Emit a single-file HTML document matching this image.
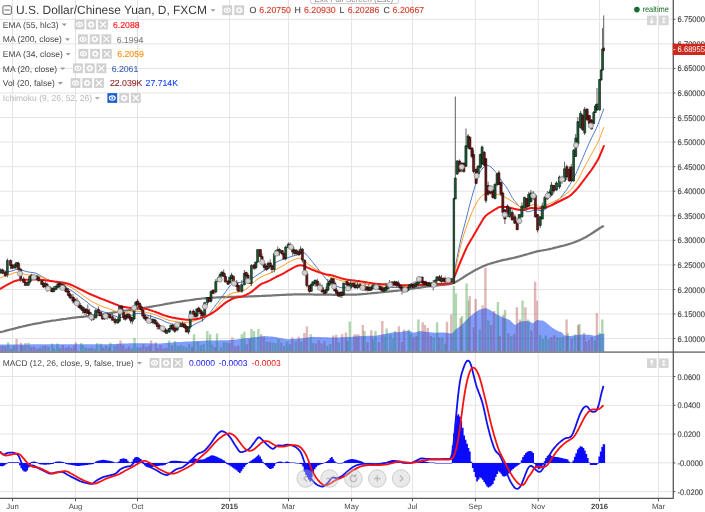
<!DOCTYPE html>
<html lang="en"><head><meta charset="utf-8"><title>U.S. Dollar/Chinese Yuan, D, FXCM</title>
<style>html,body{margin:0;padding:0;background:#fff;overflow:hidden}svg{display:block}</style></head>
<body>
<svg width="705" height="512" viewBox="0 0 705 512" font-family="'Liberation Sans', Arial, sans-serif" text-rendering="geometricPrecision">
<rect width="705" height="512" fill="#fff"/>
<path d="M0 19.3 H673 M0 43.9 H673 M0 68.4 H673 M0 93 H673 M0 117.5 H673 M0 142.1 H673 M0 166.7 H673 M0 191.2 H673 M0 215.8 H673 M0 240.3 H673 M0 264.9 H673 M0 289.5 H673 M0 314 H673 M0 338.6 H673 M0 376.5 H673 M0 405.3 H673 M0 434.1 H673 M0 462.9 H673 M0 491.6 H673 M12.5 0 V498.3 M75.5 0 V498.3 M137.5 0 V498.3 M229.6 0 V498.3 M288.5 0 V498.3 M351.6 0 V498.3 M412.5 0 V498.3 M475.4 0 V498.3 M538.2 0 V498.3 M599.5 0 V498.3 M658.5 0 V498.3" stroke="#e4e4e4" stroke-width="1" fill="none"/>
<path d="M7 352.1V342.3h2.4V352.1zM12.7 352.1V345.2h2.4V352.1zM21.3 352.1V345.4h2.4V352.1zM27.4 352.1V342.8h2.4V352.1zM41.5 352.1V345.9h2.4V352.1zM47.2 352.1V346.4h2.4V352.1zM51.1 352.1V343.5h2.4V352.1zM53 352.1V348.8h2.4V352.1zM56.2 352.1V343.5h2.4V352.1zM58.7 352.1V348h2.4V352.1zM80 352.1V343h2.4V352.1zM81.7 352.1V345.3h2.4V352.1zM84.6 352.1V347.4h2.4V352.1zM87.5 352.1V348.2h2.4V352.1zM93.2 352.1V348.8h2.4V352.1zM95.8 352.1V343h2.4V352.1zM99.6 352.1V343.5h2.4V352.1zM104.7 352.1V345.6h2.4V352.1zM109.1 352.1V342.8h2.4V352.1zM113.3 352.1V345.8h2.4V352.1zM130.6 352.1V348.4h2.4V352.1zM133.3 352.1V337.9h2.4V352.1zM136.3 352.1V347.6h2.4V352.1zM167.8 352.1V340.5h2.4V352.1zM173.7 352.1V341h2.4V352.1zM176.6 352.1V346.2h2.4V352.1zM179.5 352.1V345h2.4V352.1zM182.3 352.1V346.1h2.4V352.1zM185.2 352.1V347.3h2.4V352.1zM188.1 352.1V343.9h2.4V352.1zM192.8 352.1V334.3h2.4V352.1zM196.7 352.1V342h2.4V352.1zM199.6 352.1V345.1h2.4V352.1zM202.5 352.1V343.9h2.4V352.1zM206.1 352.1V330.9h2.4V352.1zM208.9 352.1V334.3h2.4V352.1zM211.1 352.1V344.6h2.4V352.1zM215.8 352.1V333.5h2.4V352.1zM219.7 352.1V347h2.4V352.1zM222.6 352.1V342.2h2.4V352.1zM225.5 352.1V342.8h2.4V352.1zM240.6 352.1V334.3h2.4V352.1zM243.1 352.1V331.7h2.4V352.1zM250.3 352.1V329.1h2.4V352.1zM252.8 352.1V330.9h2.4V352.1zM257.2 352.1V329.1h2.4V352.1zM265.7 352.1V341.6h2.4V352.1zM271.5 352.1V342.5h2.4V352.1zM274.3 352.1V342.9h2.4V352.1zM277.2 352.1V339.1h2.4V352.1zM283 352.1V345.9h2.4V352.1zM285.8 352.1V341.7h2.4V352.1zM288.7 352.1V344.3h2.4V352.1zM294.5 352.1V341.4h2.4V352.1zM300.2 352.1V341.8h2.4V352.1zM309.5 352.1V334.3h2.4V352.1zM311.7 352.1V342.9h2.4V352.1zM326.1 352.1V345.8h2.4V352.1zM329 352.1V344.1h2.4V352.1zM337.6 352.1V342.5h2.4V352.1zM346.2 352.1V340.9h2.4V352.1zM348.6 352.1V321.5h2.4V352.1zM363.3 352.1V331.1h2.4V352.1zM372.1 352.1V339.3h2.4V352.1zM374.3 352.1V331.1h2.4V352.1zM383.6 352.1V336.6h2.4V352.1zM385.4 352.1V328.5h2.4V352.1zM389.3 352.1V334.6h2.4V352.1zM392.2 352.1V338.7h2.4V352.1zM393.9 352.1V331.1h2.4V352.1zM407.5 352.1V329.7h2.4V352.1zM409.5 352.1V333.8h2.4V352.1zM417.2 352.1V319.5h2.4V352.1zM432.5 352.1V337.4h2.4V352.1zM435.9 352.1V322.2h2.4V352.1zM441.1 352.1V337.6h2.4V352.1zM444 352.1V343.7h2.4V352.1zM452.6 352.1V286h2.4V352.1zM454.7 352.1V293.6h2.4V352.1zM460.8 352.1V316.1h2.4V352.1zM465.4 352.1V283.4h2.4V352.1zM466.8 352.1V300.4h2.4V352.1zM478.5 352.1V329.6h2.4V352.1zM487.1 352.1V320.6h2.4V352.1zM496.7 352.1V302.1h2.4V352.1zM503.8 352.1V309.8h2.4V352.1zM510.1 352.1V336.3h2.4V352.1zM521.4 352.1V300.4h2.4V352.1zM527 352.1V319.5h2.4V352.1zM538.8 352.1V335h2.4V352.1zM541.7 352.1V338.9h2.4V352.1zM544.6 352.1V335.5h2.4V352.1zM547.5 352.1V339.1h2.4V352.1zM556.1 352.1V337.3h2.4V352.1zM559 352.1V337.7h2.4V352.1zM561.8 352.1V336.9h2.4V352.1zM566.6 352.1V333.6h2.4V352.1zM573.9 352.1V334.5h2.4V352.1zM578.2 352.1V323.9h2.4V352.1zM593.5 352.1V340.3h2.4V352.1zM598.6 352.1V332.8h2.4V352.1zM601.1 352.1V319.5h2.4V352.1z" fill="#008000" fill-opacity="0.2"/>
<path d="M-1.7 352.1V346.5h2.4V352.1zM1.2 352.1V345.8h2.4V352.1zM4.1 352.1V346h2.4V352.1zM9.8 352.1V348.7h2.4V352.1zM15.4 352.1V338.9h2.4V352.1zM19.7 352.1V342.8h2.4V352.1zM24.3 352.1V343h2.4V352.1zM30 352.1V347h2.4V352.1zM32.8 352.1V346.7h2.4V352.1zM35.7 352.1V348.8h2.4V352.1zM38.6 352.1V347.8h2.4V352.1zM44.3 352.1V345.7h2.4V352.1zM61.6 352.1V345h2.4V352.1zM64.5 352.1V347.7h2.4V352.1zM67.3 352.1V346.7h2.4V352.1zM70.2 352.1V348h2.4V352.1zM73.1 352.1V346.1h2.4V352.1zM74.6 352.1V342.5h2.4V352.1zM90.3 352.1V347.6h2.4V352.1zM101.8 352.1V347.5h2.4V352.1zM107.6 352.1V347.5h2.4V352.1zM116.2 352.1V344.6h2.4V352.1zM119.3 352.1V340.5h2.4V352.1zM122 352.1V345.3h2.4V352.1zM124.8 352.1V348.4h2.4V352.1zM127.7 352.1V346.8h2.4V352.1zM139.2 352.1V347.5h2.4V352.1zM142.1 352.1V344.3h2.4V352.1zM145 352.1V346.9h2.4V352.1zM147.8 352.1V346.1h2.4V352.1zM149.9 352.1V340.5h2.4V352.1zM154.5 352.1V342.3h2.4V352.1zM156.5 352.1V348h2.4V352.1zM159.3 352.1V345h2.4V352.1zM162.2 352.1V348.2h2.4V352.1zM165.1 352.1V347.9h2.4V352.1zM170.8 352.1V345.2h2.4V352.1zM191 352.1V346.7h2.4V352.1zM214 352.1V346.9h2.4V352.1zM228.3 352.1V343.3h2.4V352.1zM231.1 352.1V337.6h2.4V352.1zM234.1 352.1V346.2h2.4V352.1zM237 352.1V345.7h2.4V352.1zM245.6 352.1V344.2h2.4V352.1zM248.5 352.1V338.9h2.4V352.1zM260 352.1V334.3h2.4V352.1zM262.8 352.1V337.5h2.4V352.1zM268.6 352.1V341.8h2.4V352.1zM280.1 352.1V342.8h2.4V352.1zM291.1 352.1V337.6h2.4V352.1zM297.5 352.1V336.8h2.4V352.1zM303.1 352.1V333h2.4V352.1zM305.7 352.1V326.6h2.4V352.1zM314.6 352.1V343.6h2.4V352.1zM317.5 352.1V340h2.4V352.1zM320.3 352.1V343.6h2.4V352.1zM323.2 352.1V341h2.4V352.1zM332 352.1V335.5h2.4V352.1zM335 352.1V334.8h2.4V352.1zM340.9 352.1V334.3h2.4V352.1zM344.7 352.1V332.5h2.4V352.1zM353.1 352.1V334.5h2.4V352.1zM355 352.1V334.3h2.4V352.1zM357.3 352.1V334.5h2.4V352.1zM361.6 352.1V325.1h2.4V352.1zM366.3 352.1V342.4h2.4V352.1zM370.1 352.1V330.2h2.4V352.1zM377.8 352.1V342h2.4V352.1zM381.1 352.1V320.9h2.4V352.1zM397.7 352.1V326.3h2.4V352.1zM400.8 352.1V341.9h2.4V352.1zM402.9 352.1V329.4h2.4V352.1zM412.3 352.1V337.2h2.4V352.1zM415.2 352.1V336.3h2.4V352.1zM421.5 352.1V322.2h2.4V352.1zM423.7 352.1V325.1h2.4V352.1zM426.6 352.1V328h2.4V352.1zM429.6 352.1V336.1h2.4V352.1zM438.2 352.1V337.8h2.4V352.1zM445.8 352.1V321.7h2.4V352.1zM450.1 352.1V314.4h2.4V352.1zM459.4 352.1V318.3h2.4V352.1zM468.5 352.1V296.2h2.4V352.1zM472.7 352.1V327.2h2.4V352.1zM474.5 352.1V299.1h2.4V352.1zM481.4 352.1V305.5h2.4V352.1zM484.2 352.1V267.7h2.4V352.1zM490 352.1V325h2.4V352.1zM492.9 352.1V311h2.4V352.1zM498.6 352.1V335.9h2.4V352.1zM502.1 352.1V314.9h2.4V352.1zM507.2 352.1V333.2h2.4V352.1zM513 352.1V334h2.4V352.1zM515.7 352.1V307.2h2.4V352.1zM518.8 352.1V319.5h2.4V352.1zM524.2 352.1V307.2h2.4V352.1zM530.2 352.1V330.6h2.4V352.1zM533.9 352.1V281.7h2.4V352.1zM535.6 352.1V300.8h2.4V352.1zM550.3 352.1V337h2.4V352.1zM553.2 352.1V335.3h2.4V352.1zM565.4 352.1V319.5h2.4V352.1zM570.5 352.1V338.6h2.4V352.1zM577 352.1V325.1h2.4V352.1zM582.9 352.1V333.1h2.4V352.1zM584.8 352.1V341.6h2.4V352.1zM587.7 352.1V339.7h2.4V352.1zM590.6 352.1V337h2.4V352.1zM595.7 352.1V313.2h2.4V352.1z" fill="#9e1e1e" fill-opacity="0.2"/>
<path d="M0 352.1 L0,344.4 L1,344.4 L2,344.4 L3,344.4 L4,344.4 L5,344.4 L6,344.4 L7,344.4 L8,344.4 L9,344.4 L10,344.4 L11,344.4 L12,344.4 L13,344.4 L14,344.4 L15,344.4 L16,344.4 L17,344.4 L18,344.4 L19,344.4 L20,344.4 L21,344.4 L22,344.4 L23,344.4 L24,344.4 L25,344.4 L26,344.4 L27,344.4 L28,344.4 L29,344.4 L30,344.4 L31,344.3 L32,344.3 L33,344.3 L34,344.3 L35,344.3 L36,344.3 L37,344.3 L38,344.3 L39,344.3 L40,344.3 L41,344.3 L42,344.3 L43,344.3 L44,344.3 L45,344.3 L46,344.3 L47,344.3 L48,344.3 L49,344.3 L50,344.3 L51,344.3 L52,344.3 L53,344.3 L54,344.3 L55,344.3 L56,344.3 L57,344.3 L58,344.3 L59,344.3 L60,344.3 L61,344.3 L62,344.3 L63,344.3 L64,344.3 L65,344.3 L66,344.3 L67,344.3 L68,344.3 L69,344.3 L70,344.3 L71,344.3 L72,344.3 L73,344.3 L74,344.3 L75,344.3 L76,344.3 L77,344.3 L78,344.3 L79,344.3 L80,344.3 L81,344.3 L82,344.3 L83,344.3 L84,344.3 L85,344.2 L86,344.2 L87,344.2 L88,344.2 L89,344.2 L90,344.2 L91,344.2 L92,344.2 L93,344.2 L94,344.2 L95,344.2 L96,344.2 L97,344.2 L98,344.2 L99,344.2 L100,344.2 L101,344.2 L102,344.2 L103,344.2 L104,344.2 L105,344.2 L106,344.2 L107,344.2 L108,344.2 L109,344.2 L110,344.2 L111,344.1 L112,344.1 L113,344 L114,344 L115,343.9 L116,343.9 L117,343.8 L118,343.8 L119,343.7 L120,343.7 L121,343.6 L122,343.6 L123,343.5 L124,343.5 L125,343.4 L126,343.4 L127,343.4 L128,343.4 L129,343.3 L130,343.3 L131,343.3 L132,343.3 L133,343.3 L134,343.3 L135,343.3 L136,343.3 L137,343.2 L138,343.2 L139,343.2 L140,343.2 L141,343.2 L142,343.2 L143,343.2 L144,343.3 L145,343.3 L146,343.3 L147,343.3 L148,343.3 L149,343.3 L150,343.4 L151,343.4 L152,343.4 L153,343.4 L154,343.4 L155,343.4 L156,343.4 L157,343.5 L158,343.5 L159,343.5 L160,343.5 L161,343.4 L162,343.3 L163,343.3 L164,343.2 L165,343.1 L166,343 L167,342.9 L168,342.9 L169,342.8 L170,342.7 L171,342.6 L172,342.5 L173,342.5 L174,342.4 L175,342.3 L176,342.2 L177,342.1 L178,342.1 L179,342 L180,341.9 L181,341.9 L182,341.8 L183,341.8 L184,341.7 L185,341.7 L186,341.6 L187,341.6 L188,341.5 L189,341.5 L190,341.4 L191,341.4 L192,341.3 L193,341.3 L194,341.2 L195,341.2 L196,341.1 L197,341.1 L198,341 L199,341 L200,340.9 L201,340.9 L202,340.8 L203,340.8 L204,340.7 L205,340.7 L206,340.6 L207,340.6 L208,340.6 L209,340.6 L210,340.5 L211,340.5 L212,340.5 L213,340.5 L214,340.5 L215,340.4 L216,340.4 L217,340.4 L218,340.4 L219,340.4 L220,340.3 L221,340.3 L222,340.3 L223,340.3 L224,340.3 L225,340.2 L226,340.2 L227,340.2 L228,340.2 L229,340.2 L230,340.1 L231,340.1 L232,340 L233,339.9 L234,339.8 L235,339.6 L236,339.5 L237,339.4 L238,339.3 L239,339.1 L240,339 L241,338.9 L242,338.8 L243,338.6 L244,338.5 L245,338.4 L246,338.3 L247,338.1 L248,338 L249,337.9 L250,337.8 L251,337.6 L252,337.5 L253,337.4 L254,337.3 L255,337.2 L256,337 L257,336.9 L258,336.8 L259,336.7 L260,336.6 L261,336.4 L262,336.3 L263,336.2 L264,336.1 L265,336.1 L266,336.2 L267,336.2 L268,336.3 L269,336.4 L270,336.5 L271,336.5 L272,336.6 L273,336.7 L274,336.8 L275,336.9 L276,337.1 L277,337.3 L278,337.5 L279,337.7 L280,337.9 L281,338.1 L282,338.3 L283,338.5 L284,338.7 L285,338.9 L286,339.1 L287,339.3 L288,339.3 L289,339.3 L290,339.2 L291,339.1 L292,339.1 L293,339 L294,339 L295,338.9 L296,338.8 L297,338.8 L298,338.7 L299,338.7 L300,338.6 L301,338.5 L302,338.3 L303,338.2 L304,338 L305,337.9 L306,337.8 L307,337.6 L308,337.5 L309,337.3 L310,337.2 L311,337.1 L312,336.9 L313,336.8 L314,336.9 L315,336.9 L316,336.9 L317,337 L318,337 L319,337 L320,337.1 L321,337.1 L322,337.2 L323,337.2 L324,337.2 L325,337.3 L326,337.3 L327,337.3 L328,337.4 L329,337.4 L330,337.5 L331,337.5 L332,337.5 L333,337.6 L334,337.5 L335,337.5 L336,337.5 L337,337.4 L338,337.4 L339,337.4 L340,337.3 L341,337.3 L342,337.3 L343,337.2 L344,337.2 L345,337.2 L346,337.1 L347,337.1 L348,337.1 L349,337 L350,337 L351,336.9 L352,336.8 L353,336.7 L354,336.6 L355,336.5 L356,336.4 L357,336.3 L358,336.2 L359,336.2 L360,336.1 L361,336.1 L362,336 L363,336 L364,336 L365,335.9 L366,335.9 L367,335.8 L368,335.8 L369,335.8 L370,335.8 L371,335.8 L372,335.8 L373,335.8 L374,335.8 L375,335.8 L376,335.7 L377,335.5 L378,335.3 L379,335.1 L380,334.9 L381,334.7 L382,334.5 L383,334.3 L384,334.1 L385,333.9 L386,333.7 L387,333.5 L388,333.3 L389,333.1 L390,332.9 L391,332.7 L392,332.5 L393,332.4 L394,332.3 L395,332.3 L396,332.2 L397,332.2 L398,332.1 L399,332 L400,332 L401,331.9 L402,331.8 L403,331.6 L404,331.5 L405,331.3 L406,331.1 L407,331 L408,330.8 L409,330.8 L410,331.2 L411,331.6 L412,332 L413,332.4 L414,332.7 L415,332.4 L416,332.1 L417,331.9 L418,331.6 L419,331.3 L420,331.1 L421,331.2 L422,331.3 L423,331.5 L424,331.6 L425,331.7 L426,331.8 L427,332 L428,332.1 L429,332.2 L430,332.3 L431,332.4 L432,332.5 L433,332.6 L434,332.7 L435,332.8 L436,332.7 L437,332.7 L438,332.7 L439,332.6 L440,332.6 L441,332.5 L442,332.5 L443,332.5 L444,332.5 L445,332.6 L446,332.8 L447,332.9 L448,333 L449,333.2 L450,333.3 L451,333.5 L452,333.6 L453,332.5 L454,331.3 L455,330 L456,329 L457,328.4 L458,327.7 L459,327 L460,326.4 L461,325.6 L462,324.6 L463,323.6 L464,322.6 L465,321.6 L466,320.6 L467,319.6 L468,318.6 L469,317.6 L470,316.6 L471,315.8 L472,314.9 L473,314.1 L474,313.2 L475,312.6 L476,311.9 L477,311.2 L478,310.6 L479,309.9 L480,309.6 L481,309.3 L482,309.1 L483,308.8 L484,308.6 L485,308.3 L486,308.1 L487,308.6 L488,309.1 L489,309.6 L490,310.1 L491,310.6 L492,311.3 L493,311.9 L494,312.6 L495,313.3 L496,313.9 L497,314.5 L498,315 L499,315.5 L500,316 L501,316.5 L502,317 L503,317.5 L504,317.8 L505,318.2 L506,318.6 L507,319 L508,319.3 L509,319.7 L510,320.2 L511,321.2 L512,322.2 L513,323.2 L514,324.2 L515,325 L516,324.4 L517,323.7 L518,323 L519,322.4 L520,321.7 L521,321.5 L522,321.4 L523,321.2 L524,321 L525,320.9 L526,321 L527,321.2 L528,321.3 L529,321.5 L530,321.7 L531,322.2 L532,322.9 L533,323.2 L534,322.4 L535,321.6 L536,320.8 L537,320 L538,320.1 L539,320.3 L540,320.4 L541,320.5 L542,320.6 L543,320.8 L544,321.1 L545,321.9 L546,322.6 L547,323.4 L548,324.2 L549,325.1 L550,325.9 L551,326.7 L552,327.6 L553,328.2 L554,328.8 L555,329.4 L556,330 L557,330.6 L558,331 L559,331.4 L560,331.8 L561,332.2 L562,332.6 L563,333.8 L564,335.3 L565,335.5 L566,335.6 L567,335.8 L568,336 L569,336.1 L570,336 L571,335.9 L572,335.7 L573,335.5 L574,335.4 L575,335.2 L576,335.1 L577,335 L578,334.9 L579,334.7 L580,334.6 L581,334.5 L582,334.5 L583,334.5 L584,334.6 L585,334.6 L586,334.7 L587,334.7 L588,334.7 L589,334.8 L590,334.9 L591,335.1 L592,335.3 L593,335.5 L594,335.7 L595,335.7 L596,335.4 L597,335.1 L598,334.8 L599,334.6 L600,334.4 L601,334.1 L602,333.9 L603,333.7 L604,333.5 L604.3,333.5 L604.3 352.1 Z" fill="#2a5cf5" fill-opacity="0.6"/>
<path d="M7 352.1V342.3h2.4V352.1zM12.7 352.1V345.2h2.4V352.1zM21.3 352.1V345.4h2.4V352.1zM27.4 352.1V342.8h2.4V352.1zM41.5 352.1V345.9h2.4V352.1zM47.2 352.1V346.4h2.4V352.1zM51.1 352.1V343.5h2.4V352.1zM53 352.1V348.8h2.4V352.1zM56.2 352.1V343.5h2.4V352.1zM58.7 352.1V348h2.4V352.1zM80 352.1V343h2.4V352.1zM81.7 352.1V345.3h2.4V352.1zM84.6 352.1V347.4h2.4V352.1zM87.5 352.1V348.2h2.4V352.1zM93.2 352.1V348.8h2.4V352.1zM95.8 352.1V343h2.4V352.1zM99.6 352.1V343.5h2.4V352.1zM104.7 352.1V345.6h2.4V352.1zM109.1 352.1V342.8h2.4V352.1zM113.3 352.1V345.8h2.4V352.1zM130.6 352.1V348.4h2.4V352.1zM133.3 352.1V337.9h2.4V352.1zM136.3 352.1V347.6h2.4V352.1zM167.8 352.1V340.5h2.4V352.1zM173.7 352.1V341h2.4V352.1zM176.6 352.1V346.2h2.4V352.1zM179.5 352.1V345h2.4V352.1zM182.3 352.1V346.1h2.4V352.1zM185.2 352.1V347.3h2.4V352.1zM188.1 352.1V343.9h2.4V352.1zM192.8 352.1V334.3h2.4V352.1zM196.7 352.1V342h2.4V352.1zM199.6 352.1V345.1h2.4V352.1zM202.5 352.1V343.9h2.4V352.1zM206.1 352.1V330.9h2.4V352.1zM208.9 352.1V334.3h2.4V352.1zM211.1 352.1V344.6h2.4V352.1zM215.8 352.1V333.5h2.4V352.1zM219.7 352.1V347h2.4V352.1zM222.6 352.1V342.2h2.4V352.1zM225.5 352.1V342.8h2.4V352.1zM240.6 352.1V334.3h2.4V352.1zM243.1 352.1V331.7h2.4V352.1zM250.3 352.1V329.1h2.4V352.1zM252.8 352.1V330.9h2.4V352.1zM257.2 352.1V329.1h2.4V352.1zM265.7 352.1V341.6h2.4V352.1zM271.5 352.1V342.5h2.4V352.1zM274.3 352.1V342.9h2.4V352.1zM277.2 352.1V339.1h2.4V352.1zM283 352.1V345.9h2.4V352.1zM285.8 352.1V341.7h2.4V352.1zM288.7 352.1V344.3h2.4V352.1zM294.5 352.1V341.4h2.4V352.1zM300.2 352.1V341.8h2.4V352.1zM309.5 352.1V334.3h2.4V352.1zM311.7 352.1V342.9h2.4V352.1zM326.1 352.1V345.8h2.4V352.1zM329 352.1V344.1h2.4V352.1zM337.6 352.1V342.5h2.4V352.1zM346.2 352.1V340.9h2.4V352.1zM348.6 352.1V321.5h2.4V352.1zM363.3 352.1V331.1h2.4V352.1zM372.1 352.1V339.3h2.4V352.1zM374.3 352.1V331.1h2.4V352.1zM383.6 352.1V336.6h2.4V352.1zM385.4 352.1V328.5h2.4V352.1zM389.3 352.1V334.6h2.4V352.1zM392.2 352.1V338.7h2.4V352.1zM393.9 352.1V331.1h2.4V352.1zM407.5 352.1V329.7h2.4V352.1zM409.5 352.1V333.8h2.4V352.1zM417.2 352.1V319.5h2.4V352.1zM432.5 352.1V337.4h2.4V352.1zM435.9 352.1V322.2h2.4V352.1zM441.1 352.1V337.6h2.4V352.1zM444 352.1V343.7h2.4V352.1zM452.6 352.1V286h2.4V352.1zM454.7 352.1V293.6h2.4V352.1zM460.8 352.1V316.1h2.4V352.1zM465.4 352.1V283.4h2.4V352.1zM466.8 352.1V300.4h2.4V352.1zM478.5 352.1V329.6h2.4V352.1zM487.1 352.1V320.6h2.4V352.1zM496.7 352.1V302.1h2.4V352.1zM503.8 352.1V309.8h2.4V352.1zM510.1 352.1V336.3h2.4V352.1zM521.4 352.1V300.4h2.4V352.1zM527 352.1V319.5h2.4V352.1zM538.8 352.1V335h2.4V352.1zM541.7 352.1V338.9h2.4V352.1zM544.6 352.1V335.5h2.4V352.1zM547.5 352.1V339.1h2.4V352.1zM556.1 352.1V337.3h2.4V352.1zM559 352.1V337.7h2.4V352.1zM561.8 352.1V336.9h2.4V352.1zM566.6 352.1V333.6h2.4V352.1zM573.9 352.1V334.5h2.4V352.1zM578.2 352.1V323.9h2.4V352.1zM593.5 352.1V340.3h2.4V352.1zM598.6 352.1V332.8h2.4V352.1zM601.1 352.1V319.5h2.4V352.1z" fill="#008000" fill-opacity="0.14"/>
<path d="M-1.7 352.1V346.5h2.4V352.1zM1.2 352.1V345.8h2.4V352.1zM4.1 352.1V346h2.4V352.1zM9.8 352.1V348.7h2.4V352.1zM15.4 352.1V338.9h2.4V352.1zM19.7 352.1V342.8h2.4V352.1zM24.3 352.1V343h2.4V352.1zM30 352.1V347h2.4V352.1zM32.8 352.1V346.7h2.4V352.1zM35.7 352.1V348.8h2.4V352.1zM38.6 352.1V347.8h2.4V352.1zM44.3 352.1V345.7h2.4V352.1zM61.6 352.1V345h2.4V352.1zM64.5 352.1V347.7h2.4V352.1zM67.3 352.1V346.7h2.4V352.1zM70.2 352.1V348h2.4V352.1zM73.1 352.1V346.1h2.4V352.1zM74.6 352.1V342.5h2.4V352.1zM90.3 352.1V347.6h2.4V352.1zM101.8 352.1V347.5h2.4V352.1zM107.6 352.1V347.5h2.4V352.1zM116.2 352.1V344.6h2.4V352.1zM119.3 352.1V340.5h2.4V352.1zM122 352.1V345.3h2.4V352.1zM124.8 352.1V348.4h2.4V352.1zM127.7 352.1V346.8h2.4V352.1zM139.2 352.1V347.5h2.4V352.1zM142.1 352.1V344.3h2.4V352.1zM145 352.1V346.9h2.4V352.1zM147.8 352.1V346.1h2.4V352.1zM149.9 352.1V340.5h2.4V352.1zM154.5 352.1V342.3h2.4V352.1zM156.5 352.1V348h2.4V352.1zM159.3 352.1V345h2.4V352.1zM162.2 352.1V348.2h2.4V352.1zM165.1 352.1V347.9h2.4V352.1zM170.8 352.1V345.2h2.4V352.1zM191 352.1V346.7h2.4V352.1zM214 352.1V346.9h2.4V352.1zM228.3 352.1V343.3h2.4V352.1zM231.1 352.1V337.6h2.4V352.1zM234.1 352.1V346.2h2.4V352.1zM237 352.1V345.7h2.4V352.1zM245.6 352.1V344.2h2.4V352.1zM248.5 352.1V338.9h2.4V352.1zM260 352.1V334.3h2.4V352.1zM262.8 352.1V337.5h2.4V352.1zM268.6 352.1V341.8h2.4V352.1zM280.1 352.1V342.8h2.4V352.1zM291.1 352.1V337.6h2.4V352.1zM297.5 352.1V336.8h2.4V352.1zM303.1 352.1V333h2.4V352.1zM305.7 352.1V326.6h2.4V352.1zM314.6 352.1V343.6h2.4V352.1zM317.5 352.1V340h2.4V352.1zM320.3 352.1V343.6h2.4V352.1zM323.2 352.1V341h2.4V352.1zM332 352.1V335.5h2.4V352.1zM335 352.1V334.8h2.4V352.1zM340.9 352.1V334.3h2.4V352.1zM344.7 352.1V332.5h2.4V352.1zM353.1 352.1V334.5h2.4V352.1zM355 352.1V334.3h2.4V352.1zM357.3 352.1V334.5h2.4V352.1zM361.6 352.1V325.1h2.4V352.1zM366.3 352.1V342.4h2.4V352.1zM370.1 352.1V330.2h2.4V352.1zM377.8 352.1V342h2.4V352.1zM381.1 352.1V320.9h2.4V352.1zM397.7 352.1V326.3h2.4V352.1zM400.8 352.1V341.9h2.4V352.1zM402.9 352.1V329.4h2.4V352.1zM412.3 352.1V337.2h2.4V352.1zM415.2 352.1V336.3h2.4V352.1zM421.5 352.1V322.2h2.4V352.1zM423.7 352.1V325.1h2.4V352.1zM426.6 352.1V328h2.4V352.1zM429.6 352.1V336.1h2.4V352.1zM438.2 352.1V337.8h2.4V352.1zM445.8 352.1V321.7h2.4V352.1zM450.1 352.1V314.4h2.4V352.1zM459.4 352.1V318.3h2.4V352.1zM468.5 352.1V296.2h2.4V352.1zM472.7 352.1V327.2h2.4V352.1zM474.5 352.1V299.1h2.4V352.1zM481.4 352.1V305.5h2.4V352.1zM484.2 352.1V267.7h2.4V352.1zM490 352.1V325h2.4V352.1zM492.9 352.1V311h2.4V352.1zM498.6 352.1V335.9h2.4V352.1zM502.1 352.1V314.9h2.4V352.1zM507.2 352.1V333.2h2.4V352.1zM513 352.1V334h2.4V352.1zM515.7 352.1V307.2h2.4V352.1zM518.8 352.1V319.5h2.4V352.1zM524.2 352.1V307.2h2.4V352.1zM530.2 352.1V330.6h2.4V352.1zM533.9 352.1V281.7h2.4V352.1zM535.6 352.1V300.8h2.4V352.1zM550.3 352.1V337h2.4V352.1zM553.2 352.1V335.3h2.4V352.1zM565.4 352.1V319.5h2.4V352.1zM570.5 352.1V338.6h2.4V352.1zM577 352.1V325.1h2.4V352.1zM582.9 352.1V333.1h2.4V352.1zM584.8 352.1V341.6h2.4V352.1zM587.7 352.1V339.7h2.4V352.1zM590.6 352.1V337h2.4V352.1zM595.7 352.1V313.2h2.4V352.1z" fill="#9e1e1e" fill-opacity="0.14"/>
<polyline points="0,332.2 1.5,331.8 3,331.5 4.5,331.1 6,330.7 7.5,330.3 9,329.9 10.5,329.5 12,329.1 13.5,328.8 15,328.4 16.5,328 18,327.6 19.5,327.2 21,326.8 22.5,326.5 24,326.1 25.5,325.8 27,325.4 28.5,325.1 30,324.8 31.5,324.5 33,324.2 34.5,323.9 36,323.6 37.5,323.3 39,323.1 40.5,322.8 42,322.5 43.5,322.2 45,321.9 46.5,321.7 48,321.4 49.5,321.2 51,320.9 52.5,320.7 54,320.5 55.5,320.3 57,320 58.5,319.8 60,319.6 61.5,319.4 63,319.2 64.5,319 66,318.8 67.5,318.5 69,318.3 70.5,318.1 72,317.9 73.5,317.7 75,317.6 76.5,317.4 78,317.2 79.5,317.1 81,316.9 82.5,316.8 84,316.6 85.5,316.5 87,316.3 88.5,316.1 90,316 91.5,315.8 93,315.6 94.5,315.4 96,315.3 97.5,315.1 99,314.9 100.5,314.6 102,314.4 103.5,314.2 105,313.9 106.5,313.7 108,313.4 109.5,313.2 111,312.9 112.5,312.7 114,312.4 115.5,312.2 117,312 118.5,311.7 120,311.5 121.5,311.2 123,311 124.5,310.7 126,310.5 127.5,310.3 129,310 130.5,309.8 132,309.6 133.5,309.4 135,309.2 136.5,309 138,308.8 139.5,308.6 141,308.4 142.5,308.2 144,307.9 145.5,307.7 147,307.4 148.5,307.2 150,306.9 151.5,306.6 153,306.3 154.5,306 156,305.8 157.5,305.5 159,305.3 160.5,305 162,304.8 163.5,304.5 165,304.2 166.5,303.9 168,303.6 169.5,303.4 171,303.1 172.5,302.8 174,302.5 175.5,302.3 177,302 178.5,301.8 180,301.6 181.5,301.3 183,301.1 184.5,300.9 186,300.7 187.5,300.5 189,300.3 190.5,300 192,299.8 193.5,299.6 195,299.4 196.5,299.2 198,299 199.5,298.8 201,298.7 202.5,298.5 204,298.4 205.5,298.2 207,298.1 208.5,298 210,297.9 211.5,297.8 213,297.7 214.5,297.6 216,297.5 217.5,297.4 219,297.4 220.5,297.3 222,297.2 223.5,297.2 225,297.1 226.5,297 228,297 229.5,296.9 231,296.9 232.5,296.8 234,296.8 235.5,296.8 237,296.7 238.5,296.7 240,296.7 241.5,296.7 243,296.6 244.5,296.6 246,296.5 247.5,296.5 249,296.4 250.5,296.4 252,296.3 253.5,296.3 255,296.2 256.5,296.2 258,296.1 259.5,296.1 261,296 262.5,295.9 264,295.8 265.5,295.8 267,295.7 268.5,295.6 270,295.5 271.5,295.5 273,295.4 274.5,295.3 276,295.2 277.5,295.2 279,295.1 280.5,295 282,294.9 283.5,294.9 285,294.8 286.5,294.7 288,294.6 289.5,294.6 291,294.5 292.5,294.5 294,294.4 295.5,294.4 297,294.4 298.5,294.4 300,294.4 301.5,294.4 303,294.4 304.5,294.4 306,294.4 307.5,294.4 309,294.4 310.5,294.4 312,294.4 313.5,294.5 315,294.5 316.5,294.5 318,294.6 319.5,294.6 321,294.6 322.5,294.6 324,294.7 325.5,294.7 327,294.7 328.5,294.7 330,294.7 331.5,294.7 333,294.8 334.5,294.8 336,294.8 337.5,294.8 339,294.8 340.5,294.7 342,294.7 343.5,294.7 345,294.7 346.5,294.7 348,294.7 349.5,294.6 351,294.6 352.5,294.6 354,294.5 355.5,294.5 357,294.5 358.5,294.4 360,294.3 361.5,294.2 363,294.1 364.5,294 366,293.8 367.5,293.7 369,293.5 370.5,293.4 372,293.2 373.5,293.1 375,292.9 376.5,292.8 378,292.6 379.5,292.5 381,292.3 382.5,292.2 384,292 385.5,291.9 387,291.7 388.5,291.6 390,291.4 391.5,291.3 393,291.1 394.5,291 396,290.8 397.5,290.7 399,290.5 400.5,290.4 402,290.2 403.5,290 405,289.8 406.5,289.6 408,289.3 409.5,289.1 411,288.9 412.5,288.7 414,288.5 415.5,288.2 417,288 418.5,287.8 420,287.6 421.5,287.3 423,287.1 424.5,286.9 426,286.7 427.5,286.5 429,286.3 430.5,286.2 432,286 433.5,285.9 435,285.7 436.5,285.6 438,285.4 439.5,285.2 441,285.1 442.5,284.9 444,284.8 445.5,284.6 447,284.5 448.5,284.3 450,284 451.5,283.7 453,283.2 454.5,282.6 456,281.8 457.5,281 459,280.1 460.5,279.1 462,278.2 463.5,277.2 465,276.3 466.5,275.3 468,274.4 469.5,273.5 471,272.6 472.5,271.7 474,270.8 475.5,270 477,269.2 478.5,268.4 480,267.7 481.5,267 483,266.3 484.5,265.7 486,265.1 487.5,264.5 489,264 490.5,263.5 492,263.1 493.5,262.7 495,262.2 496.5,261.8 498,261.4 499.5,261 501,260.6 502.5,260.2 504,259.9 505.5,259.6 507,259.3 508.5,258.9 510,258.6 511.5,258.3 513,258 514.5,257.7 516,257.3 517.5,256.9 519,256.5 520.5,256.1 522,255.7 523.5,255.2 525,254.8 526.5,254.4 528,254 529.5,253.5 531,253.1 532.5,252.7 534,252.2 535.5,251.8 537,251.4 538.5,251.1 540,250.8 541.5,250.5 543,250.3 544.5,250 546,249.8 547.5,249.5 549,249.2 550.5,248.8 552,248.5 553.5,248.1 555,247.7 556.5,247.4 558,247 559.5,246.6 561,246.2 562.5,245.9 564,245.5 565.5,245.1 567,244.7 568.5,244.2 570,243.8 571.5,243.3 573,242.7 574.5,242.2 576,241.6 577.5,241 579,240.4 580.5,239.7 582,239 583.5,238.2 585,237.5 586.5,236.7 588,235.8 589.5,234.9 591,234 592.5,233 594,232 595.5,231 597,230 598.5,229 600,228 601.5,227.1 603,226.3 603.5,225.5" fill="none" stroke="#767676" stroke-width="2.25" stroke-linejoin="round"/>
<polyline points="0,269.7 1,270 2,270.3 3,270.6 4,270.9 5,271.2 6,271.5 7,271.7 8,271.7 9,271.6 10,271.5 11,271.2 12,270.9 13,270.6 14,270.2 15,269.9 16,269.6 17,269.3 18,269.2 19,269.3 20,269.5 21,269.7 22,270.1 23,270.4 24,270.8 25,271.1 26,271.4 27,271.7 28,271.9 29,272.1 30,272.2 31,272.4 32,272.5 33,272.6 34,272.8 35,273 36,273.3 37,273.8 38,274.3 39,274.8 40,275.4 41,276 42,276.6 43,277.2 44,277.7 45,278.2 46,278.7 47,279.2 48,279.7 49,280.1 50,280.4 51,280.8 52,281 53,281.3 54,281.6 55,281.9 56,282.1 57,282.4 58,282.8 59,283.2 60,283.6 61,284 62,284.5 63,285.1 64,285.8 65,286.5 66,287.2 67,287.9 68,288.6 69,289.2 70,289.9 71,290.5 72,291.1 73,291.7 74,292.4 75,293.1 76,293.8 77,294.6 78,295.3 79,296.1 80,296.8 81,297.6 82,298.3 83,299.1 84,299.8 85,300.6 86,301.3 87,302.1 88,302.9 89,303.8 90,304.6 91,305.4 92,306.2 93,306.8 94,307.4 95,308 96,308.5 97,309 98,309.5 99,310 100,310.5 101,311 102,311.4 103,311.7 104,312 105,312.3 106,312.6 107,312.9 108,313.3 109,313.7 110,314 111,314.4 112,314.8 113,315.2 114,315.6 115,316 116,316.4 117,316.7 118,317 119,317.3 120,317.5 121,317.5 122,317.4 123,317.3 124,317.2 125,317.1 126,316.9 127,316.7 128,316.5 129,316.2 130,316 131,315.6 132,315.2 133,314.8 134,314.4 135,314 136,313.7 137,313.5 138,313.4 139,313.4 140,313.4 141,313.4 142,313.6 143,313.8 144,314.1 145,314.5 146,314.8 147,315.1 148,315.4 149,315.7 150,316 151,316.3 152,316.6 153,316.9 154,317.2 155,317.5 156,317.9 157,318.2 158,318.5 159,318.9 160,319.2 161,319.6 162,320 163,320.5 164,321 165,321.6 166,322 167,322.5 168,322.8 169,323.1 170,323.5 171,323.8 172,324.1 173,324.3 174,324.6 175,324.9 176,325.1 177,325.3 178,325.4 179,325.6 180,325.7 181,325.9 182,326 183,326.2 184,326.4 185,326.6 186,326.8 187,326.9 188,327.1 189,327.1 190,327 191,326.6 192,326 193,325.3 194,324.7 195,324.1 196,323.6 197,323.1 198,322.6 199,322.1 200,321.6 201,321.1 202,320.6 203,320 204,319.3 205,318.5 206,317.4 207,316.3 208,315.1 209,313.9 210,312.7 211,311.4 212,310.1 213,308.7 214,307.4 215,306.1 216,304.7 217,303.4 218,302.1 219,300.7 220,299.4 221,298.1 222,296.7 223,295.4 224,294 225,292.7 226,291.2 227,289.8 228,288.4 229,287 230,285.9 231,284.9 232,284.1 233,283.5 234,283 235,282.8 236,282.6 237,282.5 238,282.5 239,282.5 240,282.4 241,282.2 242,282 243,281.8 244,281.5 245,281.3 246,281 247,280.6 248,280.3 249,280 250,279.6 251,279.1 252,278.5 253,277.8 254,277.2 255,276.5 256,275.8 257,275.2 258,274.5 259,273.8 260,273.2 261,272.5 262,271.8 263,271.2 264,270.5 265,269.8 266,269.2 267,268.6 268,268.1 269,267.6 270,267.1 271,266.5 272,265.7 273,264.9 274,264 275,263.1 276,262.4 277,261.9 278,261.3 279,260.9 280,260.4 281,260 282,259.6 283,259.3 284,258.9 285,258.6 286,258.3 287,257.9 288,257.6 289,257.3 290,257 291,256.6 292,256.4 293,256.1 294,255.8 295,255.5 296,255.2 297,254.9 298,254.5 299,254.1 300,253.7 301,253.3 302,253 303,252.8 304,252.8 305,253.3 306,254.2 307,255.3 308,256.4 309,257.7 310,258.9 311,260.2 312,261.4 313,262.7 314,263.9 315,265.2 316,266.4 317,267.7 318,268.9 319,270.2 320,271.4 321,272.7 322,273.9 323,275.2 324,276.4 325,277.7 326,278.9 327,280.1 328,281.1 329,282 330,282.8 331,283.5 332,284.1 333,284.7 334,285.2 335,285.6 336,286 337,286.4 338,286.7 339,287 340,287.3 341,287.6 342,287.7 343,287.7 344,287.6 345,287.4 346,287.3 347,287.1 348,287 349,286.9 350,286.8 351,286.7 352,286.6 353,286.6 354,286.5 355,286.4 356,286.4 357,286.3 358,286.3 359,286.2 360,286.3 361,286.4 362,286.5 363,286.7 364,286.9 365,287 366,287.1 367,287.2 368,287.3 369,287.4 370,287.4 371,287.5 372,287.6 373,287.7 374,287.8 375,287.8 376,287.9 377,287.9 378,287.9 379,287.9 380,287.9 381,287.8 382,287.8 383,287.8 384,287.7 385,287.7 386,287.6 387,287.6 388,287.6 389,287.5 390,287.5 391,287.5 392,287.5 393,287.5 394,287.5 395,287.5 396,287.5 397,287.5 398,287.5 399,287.5 400,287.5 401,287.5 402,287.5 403,287.4 404,287.3 405,287.3 406,287.2 407,287.1 408,287 409,286.9 410,286.9 411,286.8 412,286.7 413,286.6 414,286.5 415,286.4 416,286.3 417,286.2 418,286.1 419,286 420,285.8 421,285.7 422,285.6 423,285.5 424,285.4 425,285.2 426,285.1 427,285 428,284.9 429,284.8 430,284.6 431,284.5 432,284.4 433,284.3 434,284.2 435,284 436,283.9 437,283.8 438,283.7 439,283.6 440,283.5 441,283.4 442,283.3 443,283.2 444,283.1 445,283.1 446,283 447,282.9 448,282.8 449,282.7 450,282.6 451,282.1 452,280.7 453,278.1 454,274 455,269.1 456,263.7 457,258.3 458,253.1 459,248 460,243.2 461,238.6 462,234.5 463,230.8 464,227.1 465,223.3 466,219.5 467,215.5 468,211.5 469,207.6 470,203.7 471,200.1 472,196.5 473,193 474,189.6 475,186.2 476,183.1 477,180 478,177 479,174.2 480,171.9 481,170.2 482,169 483,168 484,167 485,166.1 486,165.5 487,165.3 488,165.4 489,165.8 490,166.3 491,167.1 492,168 493,169 494,170.1 495,171.2 496,172.6 497,174 498,175.5 499,177 500,178.5 501,180 502,181.4 503,182.8 504,184.1 505,185.4 506,186.7 507,188.1 508,189.7 509,191.6 510,193.5 511,195.4 512,197.3 513,198.8 514,200.2 515,201.4 516,202.6 517,203.8 518,204.9 519,206 520,207 521,207.9 522,208.6 523,209.2 524,209.9 525,210.6 526,211.2 527,211.6 528,211.8 529,211.7 530,211.4 531,211.1 532,210.8 533,210.4 534,210.1 535,210 536,210 537,210.1 538,210.2 539,210.4 540,210.6 541,210.7 542,210.7 543,210.4 544,209.9 545,209.3 546,208.7 547,208 548,207.3 549,206.7 550,206 551,205.2 552,204.5 553,203.8 554,203 555,202.2 556,201.5 557,200.8 558,200 559,199.2 560,198.2 561,197.1 562,195.8 563,194.5 564,193.2 565,191.8 566,190.5 567,189.1 568,187.6 569,186 570,184.3 571,182.7 572,181 573,179.3 574,177.6 575,175.7 576,173.6 577,171.3 578,169 579,166.7 580,164.3 581,162 582,159.7 583,157.3 584,155 585,152.7 586,150.3 587,148 588,145.7 589,143.4 590,141.2 591,139 592,137 593,135 594,133 595,131 596,128.9 597,126.8 598,124.4 599,121.7 600,119 601,116.2 602,113.5 603,110.9 603.8,108.5" fill="none" stroke="#4a72c4" stroke-width="0.95" stroke-linejoin="round"/>
<polyline points="0,277.8 1,277.5 2,277.2 3,276.9 4,276.6 5,276.3 6,276.1 7,275.7 8,275.4 9,274.9 10,274.5 11,274.1 12,273.7 13,273.3 14,272.9 15,272.6 16,272.4 17,272.2 18,272.2 19,272.4 20,272.6 21,272.9 22,273.3 23,273.8 24,274.2 25,274.5 26,274.8 27,274.9 28,275 29,275.1 30,275.1 31,275.1 32,275.2 33,275.3 34,275.4 35,275.5 36,275.6 37,275.8 38,276 39,276.2 40,276.5 41,276.8 42,277.2 43,277.7 44,278.1 45,278.6 46,279 47,279.4 48,279.8 49,280.1 50,280.5 51,280.8 52,281 53,281.3 54,281.5 55,281.7 56,281.9 57,282.1 58,282.3 59,282.6 60,282.8 61,283.1 62,283.4 63,283.7 64,284.1 65,284.4 66,284.9 67,285.3 68,285.8 69,286.3 70,286.8 71,287.4 72,287.9 73,288.5 74,289.2 75,289.8 76,290.4 77,291.1 78,291.8 79,292.6 80,293.3 81,294.1 82,294.8 83,295.6 84,296.3 85,297 86,297.6 87,298.3 88,299 89,299.7 90,300.3 91,301 92,301.6 93,302.1 94,302.6 95,303.1 96,303.6 97,304.1 98,304.6 99,305 100,305.5 101,305.9 102,306.3 103,306.7 104,307.1 105,307.4 106,307.8 107,308.2 108,308.5 109,308.9 110,309.2 111,309.6 112,309.9 113,310.3 114,310.7 115,311.1 116,311.5 117,311.8 118,312.2 119,312.5 120,312.7 121,312.7 122,312.7 123,312.6 124,312.5 125,312.4 126,312.3 127,312.2 128,312.1 129,312 130,311.9 131,311.8 132,311.6 133,311.5 134,311.4 135,311.3 136,311.2 137,311.2 138,311.3 139,311.4 140,311.4 141,311.5 142,311.7 143,311.8 144,312 145,312.2 146,312.3 147,312.5 148,312.8 149,313 150,313.2 151,313.5 152,313.8 153,314.1 154,314.4 155,314.7 156,315.1 157,315.4 158,315.8 159,316.3 160,316.7 161,317.1 162,317.6 163,318 164,318.4 165,318.9 166,319.3 167,319.7 168,320 169,320.3 170,320.5 171,320.8 172,321 173,321.2 174,321.4 175,321.5 176,321.7 177,321.9 178,322 179,322.1 180,322.2 181,322.2 182,322.3 183,322.3 184,322.4 185,322.4 186,322.4 187,322.4 188,322.3 189,322.2 190,322 191,321.8 192,321.6 193,321.3 194,321 195,320.7 196,320.4 197,320.1 198,319.7 199,319.4 200,319 201,318.6 202,318.1 203,317.7 204,317.2 205,316.7 206,316.2 207,315.6 208,315 209,314.4 210,313.7 211,312.9 212,312.1 213,311.3 214,310.4 215,309.4 216,308.2 217,306.9 218,305.6 219,304.3 220,303 221,301.9 222,300.9 223,299.9 224,298.9 225,297.9 226,297.1 227,296.3 228,295.5 229,294.8 230,294.2 231,293.7 232,293.3 233,293 234,292.7 235,292.5 236,292.3 237,292.2 238,292.2 239,292.1 240,291.9 241,291.6 242,291.2 243,290.7 244,290.2 245,289.7 246,289 247,288.3 248,287.6 249,286.8 250,286 251,285.1 252,284.1 253,283.2 254,282.2 255,281.2 256,280.4 257,279.6 258,278.9 259,278.2 260,277.6 261,277 262,276.5 263,276 264,275.6 265,275.1 266,274.7 267,274.4 268,274 269,273.7 270,273.3 271,272.9 272,272.4 273,271.7 274,271 275,270.3 276,269.6 277,269 278,268.4 279,267.9 280,267.4 281,266.9 282,266.3 283,265.7 284,265.1 285,264.4 286,263.7 287,263.1 288,262.5 289,262 290,261.5 291,261 292,260.5 293,260.1 294,259.7 295,259.4 296,259 297,258.7 298,258.5 299,258.3 300,258.2 301,258.3 302,258.7 303,259.3 304,260.1 305,261 306,262 307,263 308,263.9 309,264.7 310,265.5 311,266.2 312,266.8 313,267.5 314,268.1 315,268.7 316,269.3 317,269.9 318,270.4 319,271 320,271.6 321,272.2 322,272.8 323,273.4 324,274 325,274.5 326,275 327,275.5 328,276 329,276.5 330,276.9 331,277.3 332,277.6 333,278 334,278.3 335,278.6 336,279 337,279.3 338,279.6 339,280 340,280.3 341,280.5 342,280.8 343,281 344,281.2 345,281.5 346,281.7 347,281.9 348,282.1 349,282.3 350,282.5 351,282.6 352,282.7 353,282.7 354,282.8 355,282.8 356,282.8 357,282.9 358,282.9 359,283 360,283.1 361,283.2 362,283.4 363,283.7 364,283.9 365,284.1 366,284.2 367,284.4 368,284.6 369,284.7 370,284.9 371,285 372,285.2 373,285.4 374,285.5 375,285.7 376,285.8 377,285.9 378,286 379,286 380,286 381,286 382,286 383,286 384,286 385,286 386,286 387,286 388,286 389,286 390,286 391,286.1 392,286.1 393,286.1 394,286.2 395,286.2 396,286.3 397,286.3 398,286.3 399,286.4 400,286.4 401,286.4 402,286.5 403,286.4 404,286.4 405,286.4 406,286.3 407,286.3 408,286.3 409,286.2 410,286.2 411,286.1 412,286.1 413,286.1 414,286 415,285.9 416,285.9 417,285.8 418,285.7 419,285.6 420,285.6 421,285.5 422,285.4 423,285.3 424,285.2 425,285.2 426,285.1 427,285 428,284.9 429,284.8 430,284.8 431,284.7 432,284.6 433,284.5 434,284.4 435,284.4 436,284.3 437,284.2 438,284.1 439,284 440,284 441,283.9 442,283.8 443,283.7 444,283.6 445,283.6 446,283.5 447,283.4 448,283.3 449,283.2 450,283.1 451,282.7 452,281.6 453,279.4 454,276 455,271.8 456,267 457,262.3 458,257.7 459,253.2 460,248.8 461,244.6 462,240.7 463,237.2 464,234 465,231 466,228 467,225.1 468,222.4 469,219.8 470,217.3 471,214.8 472,212.4 473,210.1 474,208 475,206 476,204.1 477,202.2 478,200.6 479,199.2 480,197.9 481,196.7 482,195.7 483,195 484,194.6 485,194.3 486,194.2 487,194 488,193.8 489,193.7 490,193.6 491,193.7 492,193.8 493,193.9 494,194 495,194.1 496,194.2 497,194.4 498,194.5 499,194.7 500,194.9 501,195.3 502,195.8 503,196.2 504,196.8 505,197.3 506,197.8 507,198.3 508,198.9 509,199.5 510,200.2 511,200.8 512,201.5 513,202.2 514,202.8 515,203.5 516,204.2 517,204.8 518,205.5 519,206.2 520,206.8 521,207.4 522,207.9 523,208 524,207.9 525,207.7 526,207.3 527,207 528,206.7 529,206.3 530,205.9 531,205.5 532,205 533,204.5 534,204.2 535,204.1 536,204.4 537,205 538,205.7 539,206.4 540,206.7 541,206.7 542,206.5 543,206.1 544,205.8 545,205.4 546,205 547,204.6 548,204.2 549,203.9 550,203.4 551,203 552,202.5 553,202 554,201.5 555,201 556,200.5 557,200 558,199.5 559,199 560,198.4 561,197.7 562,197 563,196.2 564,195.5 565,194.8 566,194 567,193.2 568,192.5 569,191.7 570,190.7 571,189.6 572,188.3 573,187 574,185.7 575,184.3 576,183 577,181.5 578,179.8 579,178 580,176 581,174 582,172 583,170 584,168 585,166.1 586,164.2 587,162.3 588,160.5 589,158.7 590,156.8 591,155 592,153.2 593,151.4 594,149.6 595,147.8 596,145.9 597,144.1 598,142.1 599,139.9 600,137.5 601,134.8 602,132.1 603,129.6 603.8,127.2" fill="none" stroke="#ff9a20" stroke-width="0.95" stroke-linejoin="round"/>
<polyline points="0,289 1,288.4 2,287.8 3,287.2 4,286.6 5,286 6,285.4 7,284.9 8,284.3 9,283.8 10,283.3 11,282.8 12,282.3 13,281.8 14,281.4 15,281 16,280.7 17,280.5 18,280.3 19,280.1 20,280 21,279.9 22,279.9 23,279.9 24,279.9 25,279.9 26,279.8 27,279.8 28,279.8 29,279.7 30,279.6 31,279.6 32,279.5 33,279.5 34,279.5 35,279.5 36,279.5 37,279.6 38,279.6 39,279.7 40,279.7 41,279.8 42,279.9 43,280 44,280.1 45,280.2 46,280.4 47,280.5 48,280.6 49,280.8 50,280.9 51,281 52,281.2 53,281.3 54,281.4 55,281.6 56,281.7 57,281.8 58,282 59,282.1 60,282.2 61,282.4 62,282.5 63,282.7 64,282.8 65,283 66,283.2 67,283.5 68,283.7 69,284 70,284.4 71,284.8 72,285.2 73,285.7 74,286.2 75,286.6 76,287.1 77,287.6 78,288.1 79,288.6 80,289.1 81,289.6 82,290.1 83,290.6 84,291.1 85,291.6 86,292.1 87,292.6 88,293.1 89,293.6 90,294 91,294.5 92,294.9 93,295.3 94,295.7 95,296.1 96,296.5 97,297 98,297.4 99,297.8 100,298.2 101,298.6 102,299 103,299.4 104,299.7 105,300.1 106,300.5 107,300.9 108,301.3 109,301.7 110,302.1 111,302.5 112,302.9 113,303.3 114,303.7 115,304.1 116,304.5 117,304.9 118,305.3 119,305.7 120,306.1 121,306.3 122,306.5 123,306.7 124,306.9 125,307.1 126,307.2 127,307.4 128,307.6 129,307.7 130,307.8 131,307.9 132,307.9 133,307.8 134,307.8 135,307.7 136,307.7 137,307.7 138,307.8 139,307.8 140,307.9 141,308 142,308.2 143,308.3 144,308.5 145,308.7 146,308.9 147,309.1 148,309.4 149,309.7 150,310.1 151,310.4 152,310.7 153,311.1 154,311.4 155,311.7 156,312.1 157,312.5 158,312.9 159,313.3 160,313.7 161,314.1 162,314.5 163,314.9 164,315.3 165,315.6 166,315.9 167,316.2 168,316.5 169,316.8 170,317 171,317.2 172,317.5 173,317.7 174,317.8 175,318 176,318.2 177,318.4 178,318.5 179,318.7 180,318.9 181,319 182,319.2 183,319.3 184,319.5 185,319.6 186,319.7 187,319.8 188,319.8 189,319.8 190,319.8 191,319.7 192,319.6 193,319.5 194,319.3 195,319.2 196,319 197,318.9 198,318.7 199,318.5 200,318.3 201,318 202,317.7 203,317.4 204,317.1 205,316.7 206,316.3 207,315.9 208,315.4 209,314.9 210,314.4 211,313.8 212,313.2 213,312.6 214,312 215,311.3 216,310.5 217,309.7 218,308.9 219,308.1 220,307.2 221,306.4 222,305.6 223,304.7 224,303.9 225,303.1 226,302.4 227,301.8 228,301.2 229,300.6 230,300 231,299.5 232,299 233,298.6 234,298.2 235,297.9 236,297.6 237,297.4 238,297.3 239,297.1 240,296.9 241,296.7 242,296.4 243,296.1 244,295.7 245,295.3 246,294.9 247,294.4 248,293.9 249,293.4 250,292.8 251,292.1 252,291.4 253,290.6 254,289.8 255,288.9 256,288.1 257,287.3 258,286.4 259,285.6 260,284.8 261,284.2 262,283.7 263,283.2 264,282.9 265,282.5 266,282.1 267,281.7 268,281.3 269,280.8 270,280.3 271,279.8 272,279.2 273,278.7 274,278.1 275,277.6 276,277 277,276.5 278,276 279,275.6 280,275.1 281,274.7 282,274.2 283,273.7 284,273.1 285,272.5 286,271.9 287,271.3 288,270.7 289,270.2 290,269.6 291,269 292,268.5 293,267.9 294,267.4 295,266.9 296,266.4 297,266 298,265.6 299,265.4 300,265.3 301,265.3 302,265.4 303,265.6 304,266 305,266.4 306,266.8 307,267.3 308,267.8 309,268.3 310,268.7 311,269.2 312,269.6 313,270 314,270.4 315,270.8 316,271.2 317,271.5 318,271.8 319,272.2 320,272.5 321,272.8 322,273.2 323,273.5 324,273.8 325,274.1 326,274.4 327,274.6 328,274.7 329,274.8 330,275 331,275.1 332,275.4 333,275.6 334,276 335,276.3 336,276.6 337,277 338,277.3 339,277.6 340,277.9 341,278.3 342,278.6 343,278.8 344,279.1 345,279.3 346,279.5 347,279.7 348,279.9 349,280 350,280.1 351,280.2 352,280.3 353,280.4 354,280.5 355,280.6 356,280.8 357,280.9 358,281 359,281.1 360,281.3 361,281.4 362,281.6 363,281.7 364,281.9 365,282.1 366,282.2 367,282.4 368,282.6 369,282.7 370,282.9 371,283 372,283.2 373,283.4 374,283.5 375,283.7 376,283.8 377,283.9 378,284 379,284.1 380,284.1 381,284.2 382,284.2 383,284.2 384,284.3 385,284.3 386,284.4 387,284.4 388,284.4 389,284.5 390,284.5 391,284.6 392,284.7 393,284.7 394,284.8 395,284.8 396,284.9 397,284.9 398,285 399,285.1 400,285.1 401,285.2 402,285.2 403,285.2 404,285.2 405,285.2 406,285.2 407,285.2 408,285.2 409,285.2 410,285.2 411,285.2 412,285.2 413,285.2 414,285.2 415,285.2 416,285.2 417,285.1 418,285.1 419,285.1 420,285 421,285 422,284.9 423,284.9 424,284.9 425,284.8 426,284.8 427,284.7 428,284.7 429,284.6 430,284.6 431,284.5 432,284.4 433,284.4 434,284.3 435,284.3 436,284.2 437,284.2 438,284.1 439,284 440,284 441,283.9 442,283.9 443,283.9 444,283.8 445,283.8 446,283.7 447,283.7 448,283.7 449,283.6 450,283.5 451,283 452,282 453,280.2 454,277.9 455,275.3 456,272.8 457,270.3 458,267.8 459,265.3 460,262.9 461,260.5 462,258.2 463,255.8 464,253.5 465,251.2 466,249 467,246.9 468,245 469,243.2 470,241.5 471,239.8 472,238.2 473,236.5 474,234.8 475,233.1 476,231.4 477,229.6 478,227.9 479,226.1 480,224.4 481,222.7 482,221.1 483,219.4 484,217.9 485,216.6 486,215.5 487,214.7 488,214 489,213.3 490,212.7 491,212 492,211.4 493,210.7 494,210.1 495,209.5 496,208.9 497,208.3 498,207.7 499,207.2 500,206.9 501,206.7 502,206.7 503,206.8 504,206.9 505,207 506,207.1 507,207.2 508,207.4 509,207.6 510,207.8 511,208.1 512,208.3 513,208.5 514,208.8 515,209 516,209.2 517,209.4 518,209.6 519,209.8 520,210 521,210.1 522,210.2 523,210.1 524,209.9 525,209.7 526,209.3 527,209 528,208.7 529,208.4 530,208.2 531,208.1 532,208.1 533,208.2 534,208.2 535,208.2 536,208.3 537,208.3 538,208.4 539,208.4 540,208.3 541,208.2 542,208 543,207.7 544,207.5 545,207.2 546,207 547,206.7 548,206.5 549,206.2 550,205.9 551,205.5 552,205 553,204.5 554,204 555,203.5 556,203 557,202.5 558,202 559,201.5 560,201 561,200.5 562,200 563,199.5 564,199 565,198.5 566,198 567,197.5 568,197 569,196.4 570,195.7 571,194.9 572,194 573,193 574,192 575,191 576,190 577,188.9 578,187.7 579,186.5 580,185.2 581,183.8 582,182.5 583,181.2 584,179.8 585,178.5 586,177.2 587,175.8 588,174.5 589,173.2 590,171.8 591,170.5 592,169.1 593,167.6 594,166.1 595,164.5 596,162.9 597,161.2 598,159.5 599,157.5 600,155.2 601,152.9 602,150.5 603,148.2 603.8,146" fill="none" stroke="#f41414" stroke-width="2.0" stroke-linejoin="round" stroke-linecap="round"/>
<path d="M0 268.1V274M2.6 268.4V274M5.3 270.7V277M7.4 258.5V277.3M10.5 259.4V269.3M12.3 264.6V269.2M14.9 263.2V268.5M16.7 262.2V267.6M18.4 261.6V270.7M20.7 267.8V281.8M23.7 276.7V282.5M25.5 281.5V285.6M28.1 281.5V285.7M29.9 275.7V284.1M31.6 273.8V281.1M34.3 274.7V279.3M36.9 275.4V279.4M38.7 276.6V281.8M41.8 280.4V284.8M43.6 282V288.1M45.3 281.4V288.5M47.1 282.6V291.7M49.2 286.1V291M51.8 287V291.8M53.6 286.1V291.9M55.9 285.8V290.4M58 283.5V288.7M59.7 282.4V288.4M62.4 281.5V289.2M64.7 283.4V291.4M66.4 287.9V292.3M68.5 288V296.6M70.3 293.1V299.2M72.9 293.9V303.4M74.7 297.5V304.2M77 297.7V305.7M79.1 300.8V308M80.8 304.8V309.8M82.6 306.4V313.4M84.3 307.1V314.5M86.1 308.1V315.8M87.8 304.5V313.9M89.6 308.8V316.3M91.4 312.6V321.1M93.1 314.8V320.5M95.8 308.7V318.6M98.4 306.4V313.9M100.5 311.5V315.9M102.5 315.4V319.6M104.5 315.1V319.8M107.2 312V319.7M109.8 313.8V318.6M112.4 313.6V320.5M115.1 317.5V324.6M117.7 317.4V323.7M119.5 305.4V321.4M121.8 305.8V314.6M123.5 311.8V319.8M125.3 314.3V320.7M127 312.9V319.5M128.8 313.4V319M130.5 314.5V323.2M132.3 316.8V324.2M134.1 305.3V319.5M135.8 301.1V308.1M137.6 298.7V304.9M139.3 302.7V306.8M141.1 304.1V310.3M142.8 307V317.7M144.6 313.2V319.4M146.4 316.7V320.9M148.1 316.4V322.2M150.7 314.7V323.5M153 318.8V324.3M155.1 318.6V324.8M157.2 321.2V329.6M159.5 323.8V329.2M162.2 325.7V332.2M164.8 327.7V332.4M166.6 329.9V333.7M169.2 328V333M171 324.6V330.2M172.7 323.5V331.1M174.8 325.4V332.9M177.1 323.2V331.3M179.7 323.1V327.5M182.4 321.3V327.1M184.7 322.7V328.7M186.4 325.1V332.3M188.5 326.3V334.3M190.3 309.9V328.6M193.4 309.4V316.2M195.2 312.4V317.6M197 308.7V318.9M198.7 306.6V312.2M200.8 308.6V317.1M202.6 311.2V321.7M204.7 301.9V315.7M207.5 297.3V305.3M209.3 297.4V302M211 290.4V302.7M213.1 289.8V294.2M215.8 279.1V293.4M218.4 276.5V281.7M220.1 272.8V281.2M221.9 271.2V275.7M223.7 269.5V276.7M225.4 273.5V282.1M228.1 280.6V284.8M229.8 276.8V283.3M231.6 272.8V279.1M233.3 275.3V283.5M235.1 281.4V286.3M236.8 279.9V290.7M238.6 284.8V291.6M241.8 280.2V292.8M244.4 270V285.4M246.1 271.5V277.5M247.9 273V281M249.7 280.1V283.9M251.4 264.2V286.1M254.1 263.9V269.9M255.8 261.9V269.4M257.6 249.2V262.9M260.2 249.2V256.6M262 253.7V265.4M264.2 262.5V270.5M266.4 264.9V270.8M268.1 261.5V269.6M270.2 259.3V266.6M272 265.6V273M274.3 253.3V272.3M276 249.9V255.6M277.8 246.6V255.2M279.5 248.3V255.5M282.2 250.3V255.5M283.9 253.4V259.5M285.7 245.7V260.4M288.3 242.4V247.8M290.1 242.5V249.4M292.7 246.5V255.8M294.5 249.1V254.7M296.2 248.9V255.5M298.9 249.6V255.3M300.6 246.3V253.9M302.4 248.1V262.7M304.7 259.7V273.4M306.8 270.9V287.4M309.4 285.5V292.9M311.2 283.3V291.6M312.9 281.2V285.8M315.2 280V286.9M317.3 278.7V286.4M319.9 282.4V288.8M322.2 284.7V292M324.3 290V294.3M326.1 286.6V294.3M327.8 279V291.2M329.6 280V286.2M331.4 277.6V284.1M333.1 278.2V283.6M334.9 281.3V291.6M336.6 287.6V294.1M338.4 291.6V297M340.1 291.1V297.7M341.9 291.5V298M343.7 282.9V295.2M346.8 281.6V285.5M348.6 281.8V290.4M350.7 280V290.3M353.3 283.1V286.6M355.1 280.3V288.3M357.4 280.8V289.2M360 282.6V288.4M363.2 285.2V289.9M365.1 282.5V290.7M367 286.5V291.6M368.9 283.9V291M370.8 286.5V290.8M372.6 284.1V289.9M374.5 284.5V288.2M376.4 284V288.2M378.2 283.1V289.7M380.1 285.1V290M382 285.9V291.6M383.9 287.8V293.1M385.8 282.6V290.6M387.6 285.6V290M389.5 280.2V288.6M392 281.3V287.1M394.5 280.6V285.6M396.4 281V286.9M398.2 280.5V287.1M400.1 285V289M402 287V294.5M403.9 284.4V292.6M405.8 287.8V291.6M407.6 287.1V292.1M409.5 284.1V288.3M411.4 283.2V287.1M413.2 282.1V288.9M415.1 281.1V287.5M417 280.6V286.5M419 276.6V284.6M422 276.9V285.8M423.9 280.6V284.9M425.8 280.7V286.8M427.6 282.5V286.7M429.5 281.7V286.6M431.4 282.2V287.4M433.2 280V290.4M435.1 279.2V286.9M437 276.7V284M439.5 275V281.3M441.4 275.1V283.3M443.2 277.5V281.5M445.1 276.5V282.4M447 278.3V283.2M448.9 279.2V283M450.8 277.9V283.9M453.9 198.5V283.5M455.3 96.5V199M457.2 160V175M459.5 159.5V172.3M461.7 162.5V172.4M463.8 162.8V172.5M466 128.6V167M468.1 134V149M469.8 136.5V149.6M472 147.3V158.6M473.6 150.3V173.5M476.1 167.7V184.3M478.2 165.4V175.1M480.4 153.6V168.8M482.1 145.5V165M484.3 151V166M485.9 158V203M488.1 181.6V195.6M490.5 186V194.5M492.9 188.7V198.5M495 182.9V199.5M497.2 172.9V186.4M498.9 170.5V185M501 181.7V196.1M502.8 191.7V214.3M504.9 209V224M507.5 204.5V217M509.6 206.8V217.7M512.2 210.1V220.3M514.8 214.3V223.8M517.2 218.2V230.2M519.3 214.4V223.7M521.9 202.6V217.6M524.5 196.7V208.5M526.8 198.2V210.4M528.8 191.8V207.2M530.9 190V202.5M533.2 191V200.1M535.4 194.4V217.8M537.6 214V232.5M540.2 216.2V228.1M542.3 202.6V219.4M544.9 196V209.1M547.3 191.1V199.5M549.6 189.5V197.1M551.5 182V196M553.8 184.9V193.5M556.4 181.2V190.8M559.5 175.6V189.1M562 175.8V183.8M564.6 161.6V182M566.8 164.6V179.9M569.3 166.2V181.6M571.2 163.9V181.4M573.6 149V181.5M575.7 134V157M577.9 117V145M580.6 111V128.5M582.6 114V131M584.7 107V135M587.1 108V121M589.3 114.8V125.3M591.6 119V129.4M593.7 111V124.5M595.4 104V113M597 88V111M599.6 79V110.5M601.2 69V80.5M602.6 28V70.5M603.7 15.4V51" stroke="#606060" stroke-width="1" fill="none"/>
<path d="M-1.1 272.9V269.5h2.3V272.9zM6.5 274.6V260.5h1.8V274.6zM13.8 268.1V264.7h2.3V268.1zM15.5 266V262.6h2.3V266zM27 285.3V281.9h2.3V285.3zM28.7 282.1V276.4h2.3V282.1zM35.7 279.3V275.9h2.3V279.3zM44.2 286.8V283.4h2.3V286.8zM52.4 291.8V288.4h2.3V291.8zM54.7 289.5V286.1h2.3V289.5zM56.8 287.2V283.8h2.3V287.2zM79.7 308.9V305.5h2.3V308.9zM84.9 312.5V309.1h2.3V312.5zM94.6 317.7V310.6h2.3V317.7zM103.4 318.9V315.4h2.3V318.9zM116.6 323V319.6h2.3V323zM118.6 321.2V306.2h1.8V321.2zM125.9 317.8V314.3h2.3V317.8zM131.1 321.2V317.8h2.3V321.2zM133.1 319.1V307.6h2V319.1zM134.7 307.6V302.3h2.3V307.6zM151.9 322.5V319.1h2.3V322.5zM165.4 333.4V330h2.3V333.4zM168 331.9V328.5h2.3V331.9zM169.8 328.9V325.3h2.3V328.9zM176 329.9V324.9h2.3V329.9zM178.6 326.5V323.1h2.3V326.5zM187.4 332.1V327.1h2.3V332.1zM189.4 327.1V311.5h1.8V327.1zM195.8 316V308.9h2.3V316zM203.7 315.1V302.7h2V315.1zM206.3 302.7V297.5h2.3V302.7zM210 301.3V291.5h2V301.3zM214.8 292V281.6h2V292zM217.2 281.6V277.8h2.3V281.6zM219 278V274.6h2.3V278zM220.8 275.5V272.1h2.3V275.5zM228.7 283V277.2h2.3V283zM230.4 278.5V275.1h2.3V278.5zM240.6 291.3V284.7h2.3V291.3zM243.4 284.7V273.3h2V284.7zM250.5 283.2V265.4h1.8V283.2zM254.7 267.7V262h2.3V267.7zM256.6 262V249.6h2V262zM267 268.5V263.4h2.3V268.5zM273.4 269.5V253.4h1.8V269.5zM274.9 254.1V250.7h2.3V254.1zM278.4 252.9V249.5h2.3V252.9zM284.7 258.9V247h2V258.9zM287.2 247.7V244.3h2.3V247.7zM293.3 253.4V250h2.3V253.4zM299.5 253.9V249.2h2.3V253.9zM310 291.3V284.6h2.3V291.3zM311.8 285.3V281.9h2.3V285.3zM314 283.5V280.1h2.3V283.5zM324.9 292.8V289.4h2.3V292.8zM326.7 290.2V283.4h2.3V290.2zM328.5 284.7V281.3h2.3V284.7zM330.2 282.5V278.8h2.3V282.5zM339 296V292.6h2.3V296zM342.7 294.9V283h2V294.9zM349.5 288.1V283.3h2.3V288.1zM356.2 287.7V284.7h2.3V287.7zM364 290.1V287.1h2.3V290.1zM369.6 290.3V287.3h2.3V290.3zM371.5 288.7V285.7h2.3V288.7zM373.4 287.7V284.7h2.3V287.7zM382.7 291.2V288.2h2.3V291.2zM384.6 290.5V287.5h2.3V290.5zM386.5 288.8V285.8h2.3V288.8zM388.4 286.4V283.4h2.3V286.4zM390.9 284.9V281.9h2.3V284.9zM406.5 290.4V287.4h2.3V290.4zM408.4 287.7V284.7h2.3V287.7zM414 286.8V283.8h2.3V286.8zM415.9 285.2V282.2h2.3V285.2zM417.9 283.2V277h2.3V283.2zM428.4 286.1V283.1h2.3V286.1zM434 285.1V280.4h2.3V285.1zM435.9 280.4V276.8h2.3V280.4zM440.2 281.4V278.4h2.3V281.4zM449.6 281.6V278.6h2.3V281.6zM453.1 283.5V198.5h1.5V283.5zM454.3 199V178h2V199zM456.1 174V161h2.2V174zM464.9 166.2V145.8h2.1V166.2zM467 147V136h2.2V147zM477.1 173.8V166h2.2V173.8zM479.3 167.3V154.4h2.2V167.3zM481.1 164V146.9h2V164zM493.9 198.5V184.5h2.2V198.5zM496.1 184.5V173.8h2.2V184.5zM508.5 216.8V208h2.2V216.8zM518.2 223.2V214.6h2.2V223.2zM520.8 216.8V206h2.2V216.8zM523.4 208.2V197.4h2.2V208.2zM527.7 206V194.2h2.2V206zM529.8 201.7V193h2.2V201.7zM539.1 225.4V216.8h2.2V225.4zM541.2 219V206h2.2V219zM543.8 208.2V197.4h2.2V208.2zM548.5 197V192h2.2V197zM550.4 195V185h2.2V195zM555.3 190V183h2.2V190zM558.4 187V177h2.2V187zM563.5 181V168.8h2.2V181zM572.7 181V150.3h1.8V181zM574.8 156.5V138h1.9V156.5zM576.9 144.2V121.6h2V144.2zM579.5 127.8V113.4h2.2V127.8zM583.7 133V109.3h2V133zM592.8 123.5V112.5h1.9V123.5zM594.4 112.5V106h1.9V112.5zM596 110V104h1.9V110zM598.6 110V79.5h1.9V110zM600.3 80V70h1.8V80zM601.6 70V49h1.9V70z" fill="#1b5e38" stroke="#08160c" stroke-width="0.6"/>
<path d="M1.5 273.3V269.9h2.3V273.3zM4.1 275.6V272.2h2.3V275.6zM9.4 265.5V260.5h2.3V265.5zM11.1 268.2V264.8h2.3V268.2zM17.3 269.3V263.3h2.3V269.3zM19.7 279V269.3h2V279zM22.6 282.3V278.9h2.3V282.3zM24.3 285.4V282h2.3V285.4zM30.5 278.5V275.1h2.3V278.5zM33.1 279.2V275.8h2.3V279.2zM37.5 280.7V277.3h2.3V280.7zM40.7 284.4V280.7h2.3V284.4zM42.4 286.9V283.5h2.3V286.9zM45.9 287.9V284.3h2.3V287.9zM48 290V286.6h2.3V290zM50.7 291.7V288.3h2.3V291.7zM58.6 286.5V283.1h2.3V286.5zM61.2 287.4V284h2.3V287.4zM63.5 289.6V286.2h2.3V289.6zM65.3 292V288.6h2.3V292zM67.4 295.5V290.9h2.3V295.5zM69.1 298V294.6h2.3V298zM71.8 301V297h2.3V301zM73.5 302.7V299.3h2.3V302.7zM75.8 303.7V300.3h2.3V303.7zM77.9 307.4V302.9h2.3V307.4zM81.4 310.5V307.1h2.3V310.5zM83.2 312.5V309.1h2.3V312.5zM86.7 313.4V310h2.3V313.4zM88.5 315.6V312.2h2.3V315.6zM90.2 317.9V314.5h2.3V317.9zM92 319.3V315.9h2.3V319.3zM97.2 313V309.6h2.3V313zM99.3 315.9V312h2.3V315.9zM101.4 319.1V315.7h2.3V319.1zM106 317.2V313.8h2.3V317.2zM108.7 317.9V314.5h2.3V317.9zM111.3 320.3V316.8h2.3V320.3zM113.9 322.6V319.2h2.3V322.6zM120.6 312.6V306.2h2.3V312.6zM122.4 317.3V312.6h2.3V317.3zM124.1 319.2V315.8h2.3V319.2zM127.6 317.6V314.2h2.3V317.6zM129.4 320.3V316.9h2.3V320.3zM136.4 304.4V301h2.3V304.4zM138.2 306.5V303.1h2.3V306.5zM139.9 309.9V306.5h2.3V309.9zM141.7 316V309.9h2.3V316zM143.4 318.7V315.3h2.3V318.7zM145.2 320.4V317h2.3V320.4zM147 321.8V318.4h2.3V321.8zM149.6 322.5V319.1h2.3V322.5zM154 323.5V320.1h2.3V323.5zM156.1 326.5V322.9h2.3V326.5zM158.4 329V325.6h2.3V329zM161 330.1V326.7h2.3V330.1zM163.7 332V328.6h2.3V332zM171.6 329.3V325.3h2.3V329.3zM173.7 331.3V327.9h2.3V331.3zM181.2 326.8V323.4h2.3V326.8zM183.5 327.6V324.2h2.3V327.6zM185.3 332.1V326.3h2.3V332.1zM192.3 314.4V311h2.3V314.4zM194 316.7V313.3h2.3V316.7zM197.6 311.4V308h2.3V311.4zM199.7 313.8V310.4h2.3V313.8zM201.4 316.1V312.7h2.3V316.1zM208.1 301.3V297.5h2.3V301.3zM212 293.4V290h2.3V293.4zM222.5 276.6V272.9h2.3V276.6zM224.3 282.1V276.6h2.3V282.1zM226.9 284.3V280.9h2.3V284.3zM232.2 283.1V276.4h2.3V283.1zM233.9 285.3V281.9h2.3V285.3zM235.7 286.6V283.2h2.3V286.6zM237.4 291.3V285.6h2.3V291.3zM245 275.9V272.5h2.3V275.9zM246.8 280.9V275.1h2.3V280.9zM248.5 283.7V280.3h2.3V283.7zM252.9 268.3V264.9h2.3V268.3zM259.1 256.6V249.6h2.3V256.6zM260.8 263.6V256.6h2.3V263.6zM263.1 267.4V263.6h2.3V267.4zM265.2 269.7V266.3h2.3V269.7zM269.1 266.3V262.9h2.3V266.3zM270.8 269.5V265.8h2.3V269.5zM276.6 253.2V249.8h2.3V253.2zM281 253.9V250.5h2.3V253.9zM282.8 258.9V253.5h2.3V258.9zM288.9 247.7V244.3h2.3V247.7zM291.6 251.9V247h2.3V251.9zM295.1 253.7V250.3h2.3V253.7zM297.7 255V251.6h2.3V255zM301.4 260.1V249.2h2V260.1zM303.7 273.3V260.1h2V273.3zM305.8 285.6V273.3h2V285.6zM308.2 291.3V285.6h2.3V291.3zM316.2 285.8V281h2.3V285.8zM318.8 288.4V285h2.3V288.4zM321.1 292V287.6h2.3V292zM323.2 293.7V290.3h2.3V293.7zM332 283.3V278.8h2.3V283.3zM333.7 291V283.3h2.3V291zM335.5 293.7V290.3h2.3V293.7zM337.2 296.1V292.7h2.3V296.1zM340.8 295.5V292.1h2.3V295.5zM345.7 285V281.6h2.3V285zM347.4 288.1V283.7h2.3V288.1zM352.2 286.1V283.1h2.3V286.1zM353.9 288V285h2.3V288zM358.9 287.6V284.6h2.3V287.6zM362.1 289.7V286.7h2.3V289.7zM365.9 289.8V286.8h2.3V289.8zM367.7 290.6V287.6h2.3V290.6zM375.2 288V285h2.3V288zM377.1 288.9V285.9h2.3V288.9zM379 289.6V286.6h2.3V289.6zM380.9 290.8V287.8h2.3V290.8zM393.4 284.7V281.7h2.3V284.7zM395.2 285V282h2.3V285zM397.1 285.8V282.8h2.3V285.8zM399 288V285h2.3V288zM400.9 290V287h2.3V290zM402.7 291V288h2.3V291zM404.6 291.5V288.5h2.3V291.5zM410.2 286.9V283.9h2.3V286.9zM412.1 287.6V284.6h2.3V287.6zM420.9 282.7V277h2.3V282.7zM422.7 284.5V281.5h2.3V284.5zM424.6 284.8V281.8h2.3V284.8zM426.5 285.6V282.6h2.3V285.6zM430.2 285.9V282.9h2.3V285.9zM432.1 286.4V283.4h2.3V286.4zM438.4 280.6V276.8h2.3V280.6zM442.1 281.2V278.2h2.3V281.2zM444 281.7V278.7h2.3V281.7zM445.9 282V279h2.3V282zM447.7 282.3V279.3h2.3V282.3zM458.4 171.6V161h2.2V171.6zM460.6 170V163h2.2V170zM462.7 171.6V163h2.2V171.6zM468.7 149V137.2h2.2V149zM470.9 156.6V148h2.2V156.6zM472.6 171.6V154.4h2V171.6zM475 183.4V169.5h2.2V183.4zM483.3 165.2V152.3h2V165.2zM484.9 200.6V158.7h1.9V200.6zM487 194.2V185.5h2.2V194.2zM489.4 193V186h2.2V193zM491.8 197.4V190h2.2V197.4zM497.9 184.5V172.7h2V184.5zM499.9 194.2V182.4h2.2V194.2zM501.8 212.5V193h2V212.5zM503.8 219V210h2.2V219zM506.4 214.6V206h2.2V214.6zM511.1 220V212.5h2.2V220zM513.7 223.2V216.8h2.2V223.2zM516.1 229.7V221h2.2V229.7zM525.7 207V198.5h2.2V207zM532.1 198V193h2.2V198zM534.4 216.8V195.3h2V216.8zM536.6 230V214.6h2V230zM546.2 199V194h2.2V199zM552.7 191V185.5h2.2V191zM561 181.5V178h2V181.5zM565.8 177V166.7h2V177zM568.3 181V169h2V181zM570.2 181V167h2V181zM581.6 129.8V115.5h2V129.8zM586 119.6V109.3h2.2V119.6zM588.2 123.7V115.5h2.2V123.7zM590.6 129V120h2V129zM603.1 50.9V47.9h1.3V50.9z" fill="#701616" stroke="#1a0505" stroke-width="0.6"/>
<circle cx="20" cy="273.5" r="2.6" fill="#d2d2d2" stroke="#8a8a8a" stroke-width="0.8"/>
<circle cx="33.8" cy="277.2" r="2.6" fill="#d2d2d2" stroke="#8a8a8a" stroke-width="0.8"/>
<circle cx="48" cy="288.5" r="2.6" fill="#d2d2d2" stroke="#8a8a8a" stroke-width="0.8"/>
<circle cx="62.5" cy="287.8" r="2.6" fill="#d2d2d2" stroke="#8a8a8a" stroke-width="0.8"/>
<circle cx="76.8" cy="303.2" r="2.6" fill="#d2d2d2" stroke="#8a8a8a" stroke-width="0.8"/>
<circle cx="91.2" cy="317" r="2.6" fill="#d2d2d2" stroke="#8a8a8a" stroke-width="0.8"/>
<circle cx="105.5" cy="316" r="2.6" fill="#d2d2d2" stroke="#8a8a8a" stroke-width="0.8"/>
<circle cx="120" cy="311.5" r="2.6" fill="#d2d2d2" stroke="#8a8a8a" stroke-width="0.8"/>
<circle cx="134.2" cy="307.8" r="2.6" fill="#d2d2d2" stroke="#8a8a8a" stroke-width="0.8"/>
<circle cx="148.8" cy="320.8" r="2.6" fill="#d2d2d2" stroke="#8a8a8a" stroke-width="0.8"/>
<circle cx="162.5" cy="328.2" r="2.6" fill="#d2d2d2" stroke="#8a8a8a" stroke-width="0.8"/>
<circle cx="177.2" cy="324.8" r="2.6" fill="#d2d2d2" stroke="#8a8a8a" stroke-width="0.8"/>
<circle cx="191" cy="316.5" r="2.6" fill="#d2d2d2" stroke="#8a8a8a" stroke-width="0.8"/>
<circle cx="204.8" cy="306.5" r="2.6" fill="#d2d2d2" stroke="#8a8a8a" stroke-width="0.8"/>
<circle cx="219.8" cy="279.5" r="2.6" fill="#d2d2d2" stroke="#8a8a8a" stroke-width="0.8"/>
<circle cx="234" cy="283.5" r="2.6" fill="#d2d2d2" stroke="#8a8a8a" stroke-width="0.8"/>
<circle cx="248" cy="281" r="2.6" fill="#d2d2d2" stroke="#8a8a8a" stroke-width="0.8"/>
<circle cx="262.2" cy="262" r="2.6" fill="#d2d2d2" stroke="#8a8a8a" stroke-width="0.8"/>
<circle cx="276.5" cy="253.5" r="2.6" fill="#d2d2d2" stroke="#8a8a8a" stroke-width="0.8"/>
<circle cx="291" cy="247" r="2.6" fill="#d2d2d2" stroke="#8a8a8a" stroke-width="0.8"/>
<circle cx="304.8" cy="272.8" r="2.6" fill="#d2d2d2" stroke="#8a8a8a" stroke-width="0.8"/>
<circle cx="319.8" cy="287.8" r="2.6" fill="#d2d2d2" stroke="#8a8a8a" stroke-width="0.8"/>
<circle cx="334" cy="286.5" r="2.6" fill="#d2d2d2" stroke="#8a8a8a" stroke-width="0.8"/>
<circle cx="348" cy="288.5" r="2.6" fill="#d2d2d2" stroke="#8a8a8a" stroke-width="0.8"/>
<circle cx="362.5" cy="287.8" r="2.6" fill="#d2d2d2" stroke="#8a8a8a" stroke-width="0.8"/>
<circle cx="376.2" cy="287.2" r="2.6" fill="#d2d2d2" stroke="#8a8a8a" stroke-width="0.8"/>
<circle cx="390" cy="284.8" r="2.6" fill="#d2d2d2" stroke="#8a8a8a" stroke-width="0.8"/>
<circle cx="405" cy="289.8" r="2.6" fill="#d2d2d2" stroke="#8a8a8a" stroke-width="0.8"/>
<circle cx="419" cy="279" r="2.6" fill="#d2d2d2" stroke="#8a8a8a" stroke-width="0.8"/>
<circle cx="433.8" cy="284.8" r="2.6" fill="#d2d2d2" stroke="#8a8a8a" stroke-width="0.8"/>
<circle cx="448.2" cy="280.2" r="2.6" fill="#d2d2d2" stroke="#8a8a8a" stroke-width="0.8"/>
<circle cx="461.7" cy="166.9" r="2.6" fill="#d2d2d2" stroke="#8a8a8a" stroke-width="0.8"/>
<circle cx="476.7" cy="175.9" r="2.6" fill="#d2d2d2" stroke="#8a8a8a" stroke-width="0.8"/>
<circle cx="490.7" cy="188.4" r="2.6" fill="#d2d2d2" stroke="#8a8a8a" stroke-width="0.8"/>
<circle cx="504.7" cy="214.6" r="2.6" fill="#d2d2d2" stroke="#8a8a8a" stroke-width="0.8"/>
<circle cx="519.3" cy="221" r="2.6" fill="#d2d2d2" stroke="#8a8a8a" stroke-width="0.8"/>
<circle cx="533.3" cy="195.7" r="2.6" fill="#d2d2d2" stroke="#8a8a8a" stroke-width="0.8"/>
<circle cx="547.7" cy="195.7" r="2.6" fill="#d2d2d2" stroke="#8a8a8a" stroke-width="0.8"/>
<circle cx="562" cy="179.4" r="2.6" fill="#d2d2d2" stroke="#8a8a8a" stroke-width="0.8"/>
<circle cx="576" cy="145.2" r="2.6" fill="#d2d2d2" stroke="#8a8a8a" stroke-width="0.8"/>
<circle cx="590.8" cy="125.7" r="2.6" fill="#d2d2d2" stroke="#8a8a8a" stroke-width="0.8"/>
<path d="M-1 466.1V463h1.7V466.1zM0.4 466.2V463h1.7V466.2zM1.9 466.3V463h1.7V466.3zM3.3 465.5V463h1.7V465.5zM4.7 464.4V463h1.7V464.4zM6.2 463.5V463h1.7V463.5zM7.6 463V462.3h1.7V463zM9 463V462.3h1.7V463zM10.5 463V462.3h1.7V463zM11.9 463V462.3h1.7V463zM13.4 463V462.3h1.7V463zM14.8 463V462.3h1.7V463zM16.2 463V462.3h1.7V463zM17.7 463V462.3h1.7V463zM19.1 465.6V463h1.7V465.6zM20.5 468.3V463h1.7V468.3zM22 470.2V463h1.7V470.2zM23.4 471.6V463h1.7V471.6zM24.9 471.7V463h1.7V471.7zM26.3 470.4V463h1.7V470.4zM27.7 467.6V463h1.7V467.6zM29.2 464.4V463h1.7V464.4zM30.6 463V462h1.7V463zM32 463V461.7h1.7V463zM33.5 463V461.4h1.7V463zM34.9 463V461.9h1.7V463zM36.4 463V462.5h1.7V463zM37.8 463.8V463h1.7V463.8zM39.2 464.3V463h1.7V464.3zM40.7 464.4V463h1.7V464.4zM42.1 464.6V463h1.7V464.6zM43.5 464.7V463h1.7V464.7zM45 464.7V463h1.7V464.7zM46.4 464.6V463h1.7V464.6zM47.9 464.4V463h1.7V464.4zM49.3 464.2V463h1.7V464.2zM50.7 464.1V463h1.7V464.1zM52.2 463.9V463h1.7V463.9zM53.6 463V462.3h1.7V463zM55 463V461.8h1.7V463zM56.5 463V461.6h1.7V463zM57.9 463V461.5h1.7V463zM59.4 463V461.5h1.7V463zM60.8 463V461.7h1.7V463zM62.2 463V461.9h1.7V463zM63.7 463V462.6h1.7V463zM65.1 463.9V463h1.7V463.9zM66.5 464.2V463h1.7V464.2zM68 464.5V463h1.7V464.5zM69.4 464.8V463h1.7V464.8zM70.9 465.1V463h1.7V465.1zM72.3 465.3V463h1.7V465.3zM73.7 465.5V463h1.7V465.5zM75.2 465.7V463h1.7V465.7zM76.6 466V463h1.7V466zM78 466V463h1.7V466zM79.5 465.8V463h1.7V465.8zM80.9 465.6V463h1.7V465.6zM82.4 465.5V463h1.7V465.5zM83.8 465.3V463h1.7V465.3zM85.2 465.1V463h1.7V465.1zM86.7 464.9V463h1.7V464.9zM88.1 464.6V463h1.7V464.6zM89.5 464.4V463h1.7V464.4zM91 464.2V463h1.7V464.2zM92.4 463.9V463h1.7V463.9zM93.9 463V462.5h1.7V463zM95.3 463V461.6h1.7V463zM96.7 463V460.9h1.7V463zM98.2 463V460.4h1.7V463zM99.6 463V460.2h1.7V463zM101 463V460h1.7V463zM102.5 463V459.8h1.7V463zM103.9 463V460.1h1.7V463zM105.4 463V460.3h1.7V463zM106.8 463V460.5h1.7V463zM108.2 463V460.7h1.7V463zM109.7 463V461.1h1.7V463zM111.1 463V461.4h1.7V463zM112.5 463V461.8h1.7V463zM114 463V462.5h1.7V463zM115.4 463V462.5h1.7V463zM116.9 463V462.3h1.7V463zM118.3 463V461.3h1.7V463zM119.7 463V459.1h1.7V463zM121.2 463V458.7h1.7V463zM122.6 463V458.3h1.7V463zM124 463V458.7h1.7V463zM125.5 463V459.1h1.7V463zM126.9 463V460.8h1.7V463zM128.4 463V462.2h1.7V463zM129.8 463V462.5h1.7V463zM131.2 463V461.7h1.7V463zM132.7 463V459.3h1.7V463zM134.1 463V457.4h1.7V463zM135.5 463V457h1.7V463zM137 463V456.9h1.7V463zM138.4 463V457.9h1.7V463zM139.9 463V459h1.7V463zM141.3 463V461.1h1.7V463zM142.7 463.6V463h1.7V463.6zM144.2 465.6V463h1.7V465.6zM145.6 466.7V463h1.7V466.7zM147 467.2V463h1.7V467.2zM148.5 467.5V463h1.7V467.5zM149.9 467.4V463h1.7V467.4zM151.4 467V463h1.7V467zM152.8 466.6V463h1.7V466.6zM154.2 466.3V463h1.7V466.3zM155.7 466.1V463h1.7V466.1zM157.1 465.9V463h1.7V465.9zM158.5 465.7V463h1.7V465.7zM160 465.6V463h1.7V465.6zM161.4 465.4V463h1.7V465.4zM162.9 465.2V463h1.7V465.2zM164.3 464.7V463h1.7V464.7zM165.7 464.1V463h1.7V464.1zM167.2 463V462.5h1.7V463zM168.6 463V461.7h1.7V463zM170 463V461.1h1.7V463zM171.5 463V460.8h1.7V463zM172.9 463V460.8h1.7V463zM174.4 463V460.8h1.7V463zM175.8 463V460.8h1.7V463zM177.2 463V461h1.7V463zM178.7 463V461.1h1.7V463zM180.1 463V461.2h1.7V463zM181.5 463V461.4h1.7V463zM183 463V461.5h1.7V463zM184.4 463V461.7h1.7V463zM185.9 463V461.8h1.7V463zM187.3 463V462h1.7V463zM188.7 463V460.5h1.7V463zM190.2 463V459.5h1.7V463zM191.6 463V459h1.7V463zM193 463V458.5h1.7V463zM194.5 463V458.4h1.7V463zM195.9 463V458.9h1.7V463zM197.4 463V459.4h1.7V463zM198.8 463V459.8h1.7V463zM200.2 463V459.6h1.7V463zM201.7 463V459.4h1.7V463zM203.1 463V459.2h1.7V463zM204.5 463V458.5h1.7V463zM206 463V457.7h1.7V463zM207.4 463V457h1.7V463zM208.9 463V456.2h1.7V463zM210.3 463V455.5h1.7V463zM211.7 463V455.3h1.7V463zM213.2 463V455.8h1.7V463zM214.6 463V456.3h1.7V463zM216 463V456.8h1.7V463zM217.5 463V457.5h1.7V463zM218.9 463V458.2h1.7V463zM220.4 463V458.8h1.7V463zM221.8 463V459.7h1.7V463zM223.2 463V460.6h1.7V463zM224.7 463V461.7h1.7V463zM226.1 464.1V463h1.7V464.1zM227.5 464.8V463h1.7V464.8zM229 465.6V463h1.7V465.6zM230.4 466.5V463h1.7V466.5zM231.9 467.4V463h1.7V467.4zM233.3 468.4V463h1.7V468.4zM234.7 469.4V463h1.7V469.4zM236.2 470.6V463h1.7V470.6zM237.6 471.9V463h1.7V471.9zM239 473.1V463h1.7V473.1zM240.5 471.2V463h1.7V471.2zM241.9 468.9V463h1.7V468.9zM243.4 467V463h1.7V467zM244.8 465.3V463h1.7V465.3zM246.2 463.9V463h1.7V463.9zM247.7 463V462.5h1.7V463zM249.1 463V461.6h1.7V463zM250.5 463V460.6h1.7V463zM252 463V459.6h1.7V463zM253.4 463V458.5h1.7V463zM254.9 463V457.4h1.7V463zM256.3 463V456.2h1.7V463zM257.7 463V454.7h1.7V463zM259.2 463V456.6h1.7V463zM260.6 463V459.1h1.7V463zM262 463V461.8h1.7V463zM263.5 463.8V463h1.7V463.8zM264.9 465.2V463h1.7V465.2zM266.4 466.7V463h1.7V466.7zM267.8 468.1V463h1.7V468.1zM269.2 469.1V463h1.7V469.1zM270.7 468.7V463h1.7V468.7zM272.1 468.1V463h1.7V468.1zM273.5 465.9V463h1.7V465.9zM275 463.6V463h1.7V463.6zM276.4 463V461.9h1.7V463zM277.9 463V461.7h1.7V463zM279.3 463V461.5h1.7V463zM280.7 463V461.7h1.7V463zM282.2 463V462.3h1.7V463zM283.6 463V462.4h1.7V463zM285 463V461.8h1.7V463zM286.5 463V461.5h1.7V463zM287.9 463V462.1h1.7V463zM289.4 463V462.6h1.7V463zM290.8 463V462.5h1.7V463zM292.2 463V462.5h1.7V463zM293.7 463V462.5h1.7V463zM295.1 463.5V463h1.7V463.5zM296.5 463.5V463h1.7V463.5zM298 463.5V463h1.7V463.5zM299.4 463.9V463h1.7V463.9zM300.9 464.3V463h1.7V464.3zM302.3 466.6V463h1.7V466.6zM303.7 471.8V463h1.7V471.8zM305.2 474.7V463h1.7V474.7zM306.6 477.3V463h1.7V477.3zM308 479.5V463h1.7V479.5zM309.5 481.6V463h1.7V481.6zM310.9 477.3V463h1.7V477.3zM312.4 473V463h1.7V473zM313.8 469.3V463h1.7V469.3zM315.2 467.2V463h1.7V467.2zM316.7 465.8V463h1.7V465.8zM318.1 464.9V463h1.7V464.9zM319.5 464.5V463h1.7V464.5zM321 464.1V463h1.7V464.1zM322.4 463.6V463h1.7V463.6zM323.9 463V462.5h1.7V463zM325.3 463V461.9h1.7V463zM326.7 463V460.9h1.7V463zM328.2 463V459.9h1.7V463zM329.6 463V458.1h1.7V463zM331 463V457.1h1.7V463zM332.5 463V459.2h1.7V463zM333.9 463V461.2h1.7V463zM335.4 463V462.5h1.7V463zM336.8 463.5V463h1.7V463.5zM338.2 463.5V463h1.7V463.5zM339.7 463.4V463h1.7V463.4zM341.1 463.5V463h1.7V463.5zM342.5 463V462.3h1.7V463zM344 463V461.3h1.7V463zM345.4 463V460.6h1.7V463zM346.9 463V459.9h1.7V463zM348.3 463V459.5h1.7V463zM349.7 463V459.2h1.7V463zM351.2 463V458.9h1.7V463zM352.6 463V459.2h1.7V463zM354 463V459.5h1.7V463zM355.5 463V459.7h1.7V463zM356.9 463V460.2h1.7V463zM358.4 463V460.7h1.7V463zM359.8 463V461.1h1.7V463zM361.2 463V461.8h1.7V463zM362.7 463V462.5h1.7V463zM364.1 463.5V463h1.7V463.5zM365.5 463.4V463h1.7V463.4zM367 463.6V463h1.7V463.6zM368.4 463.7V463h1.7V463.7zM369.9 463.9V463h1.7V463.9zM371.3 463.8V463h1.7V463.8zM372.7 463.8V463h1.7V463.8zM374.2 463.7V463h1.7V463.7zM375.6 463.7V463h1.7V463.7zM377 463.6V463h1.7V463.6zM378.5 463.6V463h1.7V463.6zM379.9 463.4V463h1.7V463.4zM381.4 463.5V463h1.7V463.5zM382.8 463V462.5h1.7V463zM384.2 463V462.5h1.7V463zM385.7 463V461.9h1.7V463zM387.1 463V461.4h1.7V463zM388.5 463V461.1h1.7V463zM390 463V460.8h1.7V463zM391.4 463V460.5h1.7V463zM392.9 463V460.7h1.7V463zM394.3 463V460.9h1.7V463zM395.7 463V461.2h1.7V463zM397.2 463V461.7h1.7V463zM398.6 463V462.5h1.7V463zM400 463V462.5h1.7V463zM401.5 463.5V463h1.7V463.5zM402.9 463.5V463h1.7V463.5zM404.4 463.4V463h1.7V463.4zM405.8 463.6V463h1.7V463.6zM407.2 463.4V463h1.7V463.4zM408.7 463.5V463h1.7V463.5zM410.1 463V462.5h1.7V463zM411.5 463V462.5h1.7V463zM413 463V462.2h1.7V463zM414.4 463V461.5h1.7V463zM415.9 463V460.9h1.7V463zM417.3 463V460.6h1.7V463zM418.7 463V460.5h1.7V463zM420.2 463V460.7h1.7V463zM421.6 463V460.9h1.7V463zM423 463V461.1h1.7V463zM424.5 463V461.5h1.7V463zM425.9 463V461.8h1.7V463zM427.4 463V462.2h1.7V463zM428.8 463V462.4h1.7V463zM430.2 463V462.6h1.7V463zM431.7 463V462.5h1.7V463zM433.1 463V462.5h1.7V463zM434.5 463.5V463h1.7V463.5zM436 463.5V463h1.7V463.5zM437.4 463.5V463h1.7V463.5zM438.9 463.5V463h1.7V463.5zM440.3 463.5V463h1.7V463.5zM441.7 463.5V463h1.7V463.5zM443.2 463.5V463h1.7V463.5zM444.6 463.5V463h1.7V463.5zM446 463.5V463h1.7V463.5zM447.5 463.5V463h1.7V463.5zM448.9 463.5V463h1.7V463.5zM450.4 463.5V463h1.7V463.5zM451.8 463V445.4h1.7V463zM453.2 463V433.5h1.7V463zM454.7 463V423.5h1.7V463zM456.1 463V415.8h1.7V463zM457.5 463V414.3h1.7V463zM459 463V416.6h1.7V463zM460.4 463V420.9h1.7V463zM461.9 463V427.7h1.7V463zM463.3 463V435.6h1.7V463zM464.7 463V439.7h1.7V463zM466.2 463V443.8h1.7V463zM467.6 463V447.9h1.7V463zM469 463V451.5h1.7V463zM470.5 463V461.8h1.7V463zM471.9 468V463h1.7V468zM473.4 472V463h1.7V472zM474.8 477V463h1.7V477zM476.2 481.5V463h1.7V481.5zM477.7 479.4V463h1.7V479.4zM479.1 477.2V463h1.7V477.2zM480.5 478.3V463h1.7V478.3zM482 479.7V463h1.7V479.7zM483.4 481.9V463h1.7V481.9zM484.9 484.2V463h1.7V484.2zM486.3 486.6V463h1.7V486.6zM487.7 487.5V463h1.7V487.5zM489.2 486.5V463h1.7V486.5zM490.6 485.6V463h1.7V485.6zM492 484.1V463h1.7V484.1zM493.5 480.5V463h1.7V480.5zM494.9 476.9V463h1.7V476.9zM496.4 474.1V463h1.7V474.1zM497.8 471.2V463h1.7V471.2zM499.2 472.4V463h1.7V472.4zM500.7 474.3V463h1.7V474.3zM502.1 476.2V463h1.7V476.2zM503.5 476.6V463h1.7V476.6zM505 475.9V463h1.7V475.9zM506.4 474.8V463h1.7V474.8zM507.9 473.4V463h1.7V473.4zM509.3 472V463h1.7V472zM510.7 470.5V463h1.7V470.5zM512.2 469.1V463h1.7V469.1zM513.6 467.7V463h1.7V467.7zM515 466.7V463h1.7V466.7zM516.5 465.7V463h1.7V465.7zM517.9 464.8V463h1.7V464.8zM519.4 463.5V463h1.7V463.5zM520.8 463V460.2h1.7V463zM522.2 463V457.1h1.7V463zM523.7 463V454.9h1.7V463zM525.1 463V453.1h1.7V463zM526.5 463V451.8h1.7V463zM528 463V451.2h1.7V463zM529.4 463V450.9h1.7V463zM530.9 463V451.4h1.7V463zM532.3 463V453h1.7V463zM533.7 464.1V463h1.7V464.1zM535.2 467.2V463h1.7V467.2zM536.6 468.2V463h1.7V468.2zM538 469.2V463h1.7V469.2zM539.5 468.5V463h1.7V468.5zM540.9 467.8V463h1.7V467.8zM542.4 464.8V463h1.7V464.8zM543.8 463V461.2h1.7V463zM545.2 463V458.1h1.7V463zM546.7 463V455.7h1.7V463zM548.1 463V455h1.7V463zM549.5 463V454.9h1.7V463zM551 463V455.9h1.7V463zM552.4 463V456.7h1.7V463zM553.9 463V456.8h1.7V463zM555.3 463V456.9h1.7V463zM556.7 463V457h1.7V463zM558.2 463V457.4h1.7V463zM559.6 463V457.7h1.7V463zM561 463V458.1h1.7V463zM562.5 463V458.4h1.7V463zM563.9 463V458.7h1.7V463zM565.4 463V459.1h1.7V463zM566.8 463V459.5h1.7V463zM568.2 463V461.4h1.7V463zM569.7 463V462.5h1.7V463zM571.1 463V462.5h1.7V463zM572.5 463V460.5h1.7V463zM574 463V456.8h1.7V463zM575.4 463V453.2h1.7V463zM576.9 463V449.6h1.7V463zM578.3 463V447.7h1.7V463zM579.7 463V446.3h1.7V463zM581.2 463V446.7h1.7V463zM582.6 463V448.1h1.7V463zM584 463V450.5h1.7V463zM585.5 463V454.1h1.7V463zM586.9 463V458.1h1.7V463zM588.4 463V462.5h1.7V463zM589.8 465.1V463h1.7V465.1zM591.2 465.1V463h1.7V465.1zM592.7 465.1V463h1.7V465.1zM594.1 465.1V463h1.7V465.1zM595.5 465.1V463h1.7V465.1zM597 463.8V463h1.7V463.8zM598.4 463V456.6h1.7V463zM599.9 463V451.4h1.7V463zM601.3 463V447.1h1.7V463zM602.7 463V444.2h1.7V463zM603.4 463V444.2h1.7V463z" fill="#0a0aff"/>
<polyline points="0,451.4 1,452.6 2,453.7 3,454.4 4,454.5 5,454.1 6,453.6 7,453.1 8,452.8 9,452.7 10,452.6 11,452.6 12,452.6 13,452.7 14,452.8 15,453.2 16,453.7 17,454.2 18,455.1 19,456.6 20,459 21,461.7 22,464.2 23,466.1 24,467.5 25,468.2 26,468 27,467.2 28,466.5 29,466 30,465.7 31,465.5 32,465.4 33,465.5 34,465.8 35,466.3 36,466.8 37,467.4 38,467.9 39,468.4 40,468.9 41,469.4 42,469.9 43,470.4 44,470.9 45,471.4 46,471.9 47,472.4 48,472.9 49,473.3 50,473.6 51,473.6 52,473.4 53,473.1 54,472.9 55,472.6 56,472.4 57,472.3 58,472.1 59,472 60,471.9 61,471.9 62,471.9 63,472.1 64,472.6 65,473.2 66,473.8 67,474.4 68,475 69,475.5 70,476.1 71,476.6 72,477.1 73,477.6 74,478.1 75,478.6 76,479.1 77,479.6 78,480.1 79,480.6 80,481.1 81,481.5 82,481.8 83,482.1 84,482.4 85,482.6 86,482.9 87,483.1 88,483.3 89,483.5 90,483.8 91,483.9 92,483.8 93,483.4 94,482.6 95,481.8 96,480.9 97,480.2 98,479.6 99,479.1 100,478.6 101,478.1 102,477.6 103,477.1 104,476.8 105,476.5 106,476.3 107,476 108,475.8 109,475.5 110,475.3 111,475 112,474.8 113,474.5 114,474.3 115,473.9 116,473.3 117,472.5 118,471.5 119,470.5 120,469.6 121,469 122,468.4 123,467.9 124,467.5 125,467.1 126,466.9 127,466.7 128,466.5 129,466.4 130,466.2 131,465.7 132,464.9 133,463.7 134,462.4 135,461.2 136,460.4 137,460.1 138,460.2 139,460.4 140,460.7 141,461.2 142,461.9 143,462.7 144,463.4 145,464.2 146,464.8 147,465.4 148,465.9 149,466.5 150,467 151,467.5 152,468 153,468.5 154,469 155,469.5 156,470 157,470.6 158,471.2 159,471.8 160,472.4 161,473 162,473.5 163,474 164,474.4 165,474.7 166,475 167,475.1 168,474.8 169,474.2 170,473.6 171,472.9 172,472.2 173,471.4 174,470.7 175,470 176,469.4 177,469 178,468.7 179,468.4 180,468.2 181,467.9 182,467.5 183,467 184,466.3 185,465.6 186,464.8 187,464.1 188,463.3 189,462.4 190,461.4 191,460.4 192,459.4 193,458.4 194,457.4 195,456.4 196,455.4 197,454.5 198,453.7 199,453.2 200,452.8 201,452.5 202,452.1 203,451.7 204,451.1 205,450.3 206,449.2 207,448.1 208,446.9 209,445.8 210,444.5 211,443.2 212,441.7 213,440.2 214,438.8 215,437.3 216,435.9 217,434.7 218,433.6 219,432.8 220,431.9 221,431.4 222,431.2 223,431.4 224,431.8 225,432.3 226,432.9 227,433.8 228,434.9 229,436 230,437.2 231,438.6 232,440.1 233,441.8 234,443.5 235,445.1 236,446.6 237,448.1 238,449.6 239,451 240,451.9 241,452.2 242,452.1 243,451.8 244,451.5 245,451.2 246,450.7 247,450.2 248,449.6 249,448.9 250,448 251,446.8 252,445.5 253,444.1 254,442.8 255,441.5 256,440.1 257,438.8 258,437.7 259,437.3 260,437.7 261,438.6 262,439.6 263,440.6 264,441.6 265,442.6 266,443.6 267,444.6 268,445.5 269,446.4 270,447.2 271,448 272,448.6 273,448.8 274,448.4 275,447.5 276,446.6 277,445.9 278,445.4 279,445.4 280,445.4 281,445.6 282,445.6 283,445.5 284,445.3 285,445 286,444.8 287,444.7 288,444.7 289,444.8 290,444.9 291,445.1 292,445.4 293,445.8 294,446.2 295,446.7 296,447.3 297,448.1 298,449 299,450 300,451.1 301,452.8 302,455.1 303,458 304,461 305,464 306,467 307,469.7 308,472.1 309,474.2 310,476.2 311,478.2 312,479.8 313,481.1 314,482.2 315,483.2 316,484.1 317,484.8 318,485.3 319,485.6 320,486 321,486.3 322,486.6 323,486.5 324,486 325,485.3 326,484.5 327,483.6 328,482.5 329,481.3 330,480 331,478.7 332,477.8 333,477.5 334,477.6 335,477.9 336,478.2 337,478.2 338,478 339,477.6 340,477.1 341,476.6 342,475.9 343,475.2 344,474.3 345,473.5 346,472.6 347,471.7 348,470.9 349,470.1 350,469.2 351,468.4 352,467.7 353,467.1 354,466.5 355,466 356,465.5 357,465.1 358,464.8 359,464.5 360,464.3 361,464 362,463.9 363,463.9 364,463.9 365,463.9 366,463.9 367,463.9 368,463.9 369,464 370,464.1 371,464.2 372,464.3 373,464.4 374,464.4 375,464.4 376,464.3 377,464.2 378,464.1 379,464 380,463.9 381,463.7 382,463.6 383,463.4 384,463.3 385,463.1 386,462.9 387,462.7 388,462.4 389,462 390,461.7 391,461.3 392,461 393,460.9 394,460.9 395,461 396,461.1 397,461.2 398,461.3 399,461.5 400,461.7 401,461.9 402,462.2 403,462.4 404,462.6 405,462.8 406,462.9 407,462.9 408,462.9 409,462.9 410,462.9 411,462.8 412,462.6 413,462.2 414,461.7 415,461.2 416,460.8 417,460.2 418,459.7 419,459.2 420,458.7 421,458.5 422,458.4 423,458.5 424,458.6 425,458.7 426,458.8 427,458.9 428,458.9 429,459 430,459 431,459.1 432,459.1 433,459.2 434,459.2 435,459.2 436,459.2 437,459.2 438,459.2 439,459.2 440,459.2 441,459.1 442,459.1 443,459 444,459 445,458.9 446,458.9 447,458.9 448,458.9 449,458.9 450,458.6 451,457.3 452,453.9 453,447.8 454,439.1 455,428.3 456,417 457,406.3 458,396.6 459,388.1 460,381.2 461,376.3 462,372.6 463,369.4 464,366.6 465,364.1 466,362.2 467,360.9 468,360.6 469,361.1 470,362.5 471,365 472,368.5 473,372.7 474,376.8 475,380.8 476,384.5 477,387.7 478,390.4 479,393 480,395.6 481,398.4 482,401.5 483,405 484,409.2 485,413.9 486,418.6 487,423.1 488,427.2 489,431.1 490,434.9 491,438.5 492,441.8 493,444.9 494,447.6 495,449.8 496,451.5 497,452.5 498,453.3 499,454.3 500,455.9 501,457.8 502,460 503,462.3 504,464.8 505,467.5 506,470.3 507,473.2 508,476 509,478.4 510,480.5 511,482.4 512,484.1 513,485.6 514,487 515,488 516,488.6 517,488.9 518,488.7 519,488 520,486.9 521,485.3 522,483.2 523,480.7 524,478.2 525,475.5 526,472.8 527,470.3 528,468.3 529,466.9 530,466.1 531,465.8 532,466.2 533,467 534,468 535,469 536,470 537,470.8 538,471.4 539,471.8 540,471.8 541,471.2 542,470 543,468.4 544,466.4 545,464.2 546,461.8 547,459.6 548,457.7 549,456 550,454.3 551,452.7 552,451.1 553,449.6 554,448.3 555,447.1 556,446 557,444.9 558,443.9 559,442.9 560,442.1 561,441.2 562,440.5 563,439.7 564,439 565,438.4 566,438.1 567,437.9 568,437.8 569,437.6 570,437.2 571,436.5 572,435.2 573,433.2 574,430.7 575,428 576,425.2 577,422.2 578,419.4 579,416.7 580,414.2 581,412 582,410.2 583,408.6 584,407.4 585,406.6 586,406.3 587,406.4 588,407.3 589,408.7 590,410.1 591,411.1 592,411.6 593,411.8 594,411.8 595,411.7 596,411.1 597,409.7 598,407.2 599,403.8 600,399.6 601,395.1 602,391 603,387.9 603.3,385.8" fill="none" stroke="#1212ee" stroke-width="1.8" stroke-linejoin="round"/>
<polyline points="0,452 1,452.8 2,453.6 3,454.4 4,455 5,455.4 6,455.5 7,455.4 8,455.3 9,455.1 10,454.9 11,454.7 12,454.5 13,454.2 14,454 15,453.8 16,453.6 17,453.6 18,453.7 19,454 20,454.6 21,455.5 22,456.6 23,457.8 24,458.9 25,460.1 26,461.3 27,462.5 28,463.5 29,464.4 30,465.1 31,465.8 32,466.4 33,466.8 34,467.1 35,467.2 36,467.3 37,467.4 38,467.6 39,467.8 40,468.2 41,468.6 42,469.1 43,469.6 44,470.1 45,470.6 46,471.1 47,471.6 48,472.1 49,472.6 50,473 51,473.4 52,473.5 53,473.5 54,473.3 55,473 56,472.8 57,472.5 58,472.3 59,472.1 60,471.9 61,471.7 62,471.5 63,471.3 64,471.1 65,471.1 66,471.2 67,471.5 68,471.9 69,472.4 70,472.9 71,473.5 72,474 73,474.6 74,475.2 75,475.8 76,476.3 77,476.9 78,477.5 79,478 80,478.6 81,479.1 82,479.6 83,480.1 84,480.5 85,481 86,481.4 87,481.8 88,482.2 89,482.6 90,482.9 91,483.2 92,483.4 93,483.6 94,483.6 95,483.6 96,483.4 97,483.1 98,482.6 99,482.1 100,481.7 101,481.2 102,480.7 103,480.2 104,479.7 105,479.2 106,478.7 107,478.3 108,478 109,477.6 110,477.3 111,476.9 112,476.6 113,476.2 114,475.9 115,475.6 116,475.3 117,475 118,474.7 119,474.2 120,473.7 121,473.1 122,472.6 123,472 124,471.4 125,470.8 126,470.3 127,469.8 128,469.2 129,468.7 130,468.2 131,467.7 132,467.2 133,466.6 134,466 135,465.4 136,464.8 137,464.2 138,463.6 139,463.1 140,462.5 141,462 142,461.4 143,461 144,460.9 145,460.9 146,461.2 147,461.5 148,462 149,462.5 150,463.1 151,463.7 152,464.4 153,465 154,465.7 155,466.3 156,467 157,467.6 158,468.3 159,468.9 160,469.5 161,470 162,470.5 163,471 164,471.5 165,472 166,472.4 167,472.8 168,473.1 169,473.4 170,473.6 171,473.7 172,473.7 173,473.6 174,473.5 175,473.3 176,473 177,472.7 178,472.2 179,471.7 180,471.2 181,470.7 182,470.2 183,469.7 184,469.2 185,468.7 186,468.2 187,467.7 188,467.2 189,466.6 190,466 191,465.4 192,464.7 193,464.1 194,463.4 195,462.6 196,461.7 197,460.7 198,459.7 199,458.7 200,457.7 201,456.8 202,455.9 203,455 204,454.1 205,453.3 206,452.4 207,451.5 208,450.4 209,449.3 210,448.2 211,447.1 212,445.9 213,444.8 214,443.7 215,442.7 216,441.7 217,440.7 218,439.7 219,438.8 220,437.9 221,437.2 222,436.5 223,435.8 224,435.2 225,434.6 226,434.1 227,433.8 228,433.6 229,433.5 230,433.5 231,433.7 232,434.2 233,434.8 234,435.5 235,436.4 236,437.4 237,438.6 238,439.9 239,441.2 240,442.5 241,443.9 242,445.2 243,446.5 244,447.7 245,448.7 246,449.5 247,450.1 248,450.5 249,450.8 250,450.9 251,450.7 252,450.3 253,449.9 254,449.3 255,448.6 256,447.7 257,446.8 258,445.9 259,445 260,444.1 261,443.2 262,442.4 263,441.8 264,441.3 265,441.1 266,441.1 267,441.1 268,441.3 269,441.7 270,442.3 271,442.9 272,443.6 273,444.2 274,444.8 275,445.3 276,445.8 277,446.2 278,446.5 279,446.6 280,446.7 281,446.7 282,446.7 283,446.6 284,446.5 285,446.4 286,446.1 287,445.9 288,445.6 289,445.4 290,445.3 291,445.2 292,445.1 293,445.1 294,445.1 295,445.2 296,445.3 297,445.6 298,445.9 299,446.4 300,447 301,447.7 302,448.8 303,450 304,451.4 305,452.9 306,454.8 307,457 308,459.5 309,462.1 310,465 311,467.7 312,470.3 313,472.4 314,474.2 315,475.8 316,477.4 317,478.8 318,480.1 319,481.2 320,482.3 321,483.3 322,484 323,484.5 324,484.9 325,485.2 326,485.3 327,485.1 328,484.7 329,484.1 330,483.6 331,483 332,482.4 333,481.7 334,481.1 335,480.5 336,479.9 337,479.5 338,479.1 339,478.7 340,478.3 341,477.9 342,477.4 343,477 344,476.5 345,476 346,475.5 347,474.8 348,474 349,473.2 350,472.4 351,471.6 352,470.9 353,470.2 354,469.7 355,469.1 356,468.6 357,468.1 358,467.6 359,467.2 360,466.7 361,466.3 362,466 363,465.8 364,465.7 365,465.5 366,465.4 367,465.3 368,465.2 369,465.1 370,465.1 371,465.1 372,465.1 373,465.1 374,465.1 375,465.1 376,465.1 377,465.1 378,465.1 379,465.1 380,465.1 381,465 382,464.9 383,464.8 384,464.7 385,464.6 386,464.5 387,464.3 388,464.1 389,463.8 390,463.6 391,463.3 392,463.1 393,462.8 394,462.6 395,462.3 396,462.1 397,461.9 398,461.7 399,461.6 400,461.6 401,461.7 402,461.8 403,462 404,462.1 405,462.3 406,462.4 407,462.5 408,462.6 409,462.7 410,462.8 411,462.8 412,462.8 413,462.7 414,462.5 415,462.4 416,462.2 417,462.1 418,461.9 419,461.6 420,461.4 421,461.2 422,460.9 423,460.7 424,460.5 425,460.3 426,460.1 427,460 428,459.8 429,459.7 430,459.6 431,459.5 432,459.5 433,459.5 434,459.5 435,459.5 436,459.5 437,459.5 438,459.5 439,459.5 440,459.5 441,459.5 442,459.5 443,459.5 444,459.5 445,459.5 446,459.5 447,459.5 448,459.5 449,459.5 450,459.4 451,459.2 452,458.7 453,457.6 454,455.7 455,453.1 456,449.7 457,445.4 458,440.2 459,434.1 460,427.1 461,419.5 462,411.8 463,404.5 464,397.7 465,391.4 466,386 467,381.3 468,377.3 469,374 470,371.3 471,369.3 472,368.1 473,367.6 474,367.8 475,368.5 476,369.7 477,371.4 478,373.4 479,375.9 480,378.9 481,382.3 482,386.1 483,390.1 484,394.1 485,398.1 486,402.2 487,406.5 488,410.9 489,415.2 490,419.5 491,423.6 492,427.5 493,431.3 494,434.9 495,438.3 496,441.6 497,444.7 498,447.6 499,450.3 500,452.6 501,454.7 502,456.7 503,458.7 504,460.7 505,462.7 506,464.7 507,466.7 508,468.6 509,470.4 510,472.1 511,473.8 512,475.4 513,476.9 514,478.4 515,479.7 516,481 517,482.2 518,483.2 519,483.9 520,484.5 521,484.9 522,485.1 523,484.9 524,484.2 525,483.1 526,481.4 527,479.5 528,477.6 529,476.1 530,474.9 531,473.6 532,472 533,470.2 534,468.7 535,467.6 536,466.9 537,466.5 538,466.5 539,466.6 540,466.8 541,467.1 542,467.3 543,467.3 544,467.2 545,466.8 546,466.2 547,465.3 548,464.1 549,462.7 550,461.2 551,459.7 552,458.2 553,456.7 554,455.2 555,453.7 556,452.3 557,451 558,449.8 559,448.6 560,447.5 561,446.5 562,445.6 563,444.7 564,443.8 565,443.1 566,442.3 567,441.6 568,440.9 569,440.3 570,439.7 571,439.1 572,438.4 573,437.6 574,436.5 575,435.2 576,433.6 577,431.9 578,430 579,428.1 580,426.1 581,424.1 582,422.1 583,420.2 584,418.3 585,416.6 586,415.1 587,413.7 588,412.4 589,411.4 590,410.6 591,410 592,409.6 593,409.4 594,409.4 595,409.5 596,409.6 597,409.5 598,409.4 599,409 600,408.4 601,407.6 602,406.6 603,405.8 603.3,405.1" fill="none" stroke="#f61212" stroke-width="1.8" stroke-linejoin="round"/>
<rect x="673" y="0" width="32" height="512" fill="#fff"/>
<rect x="0" y="498.3" width="705" height="13.7" fill="#fff"/>
<path d="M0 352.1 H705" stroke="#8a8a8a" stroke-width="1.7" fill="none"/>
<path d="M673.3 0 V498.8 M0 498.3 H673.3" stroke="#585858" stroke-width="1.3" fill="none"/>
<path d="M673 19.3 h2.4 M673 43.9 h2.4 M673 68.4 h2.4 M673 93 h2.4 M673 117.5 h2.4 M673 142.1 h2.4 M673 166.7 h2.4 M673 191.2 h2.4 M673 215.8 h2.4 M673 240.3 h2.4 M673 264.9 h2.4 M673 289.5 h2.4 M673 314 h2.4 M673 338.6 h2.4 M673 376.5 h2.4 M673 405.3 h2.4 M673 434.1 h2.4 M673 462.9 h2.4 M673 491.6 h2.4 M12.5 498.3 v3 M75.5 498.3 v3 M137.5 498.3 v3 M229.6 498.3 v3 M288.5 498.3 v3 M351.6 498.3 v3 M412.5 498.3 v3 M475.4 498.3 v3 M538.2 498.3 v3 M599.5 498.3 v3 M658.5 498.3 v3" stroke="#555" stroke-width="1" fill="none"/>
<g font-size="8.2" fill="#404040" stroke="#404040" stroke-width="0.12">
<text x="677.6" y="22.3" textLength="27.4" lengthAdjust="spacingAndGlyphs">6.75000</text>
<text x="677.6" y="46.9" textLength="27.4" lengthAdjust="spacingAndGlyphs">6.70000</text>
<text x="677.6" y="71.4" textLength="27.4" lengthAdjust="spacingAndGlyphs">6.65000</text>
<text x="677.6" y="96" textLength="27.4" lengthAdjust="spacingAndGlyphs">6.60000</text>
<text x="677.6" y="120.5" textLength="27.4" lengthAdjust="spacingAndGlyphs">6.55000</text>
<text x="677.6" y="145.1" textLength="27.4" lengthAdjust="spacingAndGlyphs">6.50000</text>
<text x="677.6" y="169.7" textLength="27.4" lengthAdjust="spacingAndGlyphs">6.45000</text>
<text x="677.6" y="194.2" textLength="27.4" lengthAdjust="spacingAndGlyphs">6.40000</text>
<text x="677.6" y="218.8" textLength="27.4" lengthAdjust="spacingAndGlyphs">6.35000</text>
<text x="677.6" y="243.3" textLength="27.4" lengthAdjust="spacingAndGlyphs">6.30000</text>
<text x="677.6" y="267.9" textLength="27.4" lengthAdjust="spacingAndGlyphs">6.25000</text>
<text x="677.6" y="292.5" textLength="27.4" lengthAdjust="spacingAndGlyphs">6.20000</text>
<text x="677.6" y="317" textLength="27.4" lengthAdjust="spacingAndGlyphs">6.15000</text>
<text x="677.6" y="341.6" textLength="27.4" lengthAdjust="spacingAndGlyphs">6.10000</text>
<text x="677.6" y="379.5" textLength="22.7" lengthAdjust="spacingAndGlyphs">0.0600</text>
<text x="677.6" y="408.3" textLength="22.7" lengthAdjust="spacingAndGlyphs">0.0400</text>
<text x="677.6" y="437.1" textLength="22.7" lengthAdjust="spacingAndGlyphs">0.0200</text>
<text x="677.6" y="465.9" textLength="25.4" lengthAdjust="spacingAndGlyphs">-0.0000</text>
<text x="677.6" y="494.6" textLength="25.4" lengthAdjust="spacingAndGlyphs">-0.0200</text>
</g>
<rect x="672.7" y="43.7" width="32.3" height="11.3" fill="#cc281e"/>
<path d="M673.4 49.6h2" stroke="#fff" stroke-width="0.8"/>
<text x="677.6" y="52.4" font-size="8.2" fill="#fff" textLength="27.4" lengthAdjust="spacingAndGlyphs">6.68955</text>
<g font-size="7.7" fill="#484848" text-anchor="middle">
<text x="12.5" y="508.5">Jun</text>
<text x="75.5" y="508.5">Aug</text>
<text x="137.5" y="508.5">Oct</text>
<text x="229.6" y="508.5" font-weight="bold" fill="#444">2015</text>
<text x="288.5" y="508.5">Mar</text>
<text x="351.6" y="508.5">May</text>
<text x="412.5" y="508.5">Jul</text>
<text x="475.4" y="508.5">Sep</text>
<text x="538.2" y="508.5">Nov</text>
<text x="599.5" y="508.5" font-weight="bold" fill="#444">2016</text>
<text x="658.5" y="508.5">Mar</text>
</g>
<rect x="310.5" y="-8" width="88" height="11.6" rx="2" fill="#fff" stroke="#c8c8c8" stroke-width="1"/>
<text x="314.3" y="1.9" font-size="8.4" fill="#8c8c8c" textLength="79" lengthAdjust="spacingAndGlyphs">Exit Full Screen (Esc)</text>
<rect x="2.9" y="5.8" width="8.5" height="8.5" rx="1.3" fill="#fff" stroke="#555" stroke-width="0.9"/><path d="M4.5 10h5.3" stroke="#555" stroke-width="0.9"/>
<text x="16" y="14.2" font-size="11.95" fill="#3a3a3a">U.S. Dollar/Chinese Yuan, D, FXCM</text>
<path d="M210.5 9.2h5l-2.5 2.6z" fill="#9a9a9a"/>
<rect x="222.3" y="5.3" width="9.8" height="9.8" fill="#d0d0d0"/><ellipse cx="227.2" cy="10.2" rx="2.9" ry="2.2" fill="none" stroke="#fff" stroke-width="1.15"/><circle cx="227.2" cy="10.2" r="1.1" fill="#fff"/>
<rect x="234.3" y="5.3" width="9.8" height="9.8" fill="#d0d0d0"/><circle cx="239.2" cy="10.2" r="2.95" fill="none" stroke="#fff" stroke-width="1.1" stroke-dasharray="1.2 1.117"/><circle cx="239.2" cy="10.2" r="2.05" fill="none" stroke="#fff" stroke-width="1.35"/>
<text y="13.3" font-size="8.75" stroke-width="0.12"><tspan x="249.6" fill="#444" stroke="#444">O</tspan><tspan x="259.3" fill="#d23c28" stroke="#d23c28">6.20750</tspan><tspan x="294.4" fill="#444" stroke="#444">H</tspan><tspan x="304" fill="#d23c28" stroke="#d23c28">6.20930</tspan><tspan x="339.5" fill="#444" stroke="#444">L</tspan><tspan x="347.7" fill="#d23c28" stroke="#d23c28">6.20286</tspan><tspan x="383.4" fill="#444" stroke="#444">C</tspan><tspan x="392.6" fill="#d23c28" stroke="#d23c28">6.20667</tspan></text>
<text x="2.8" y="27.7" font-size="8.5" fill="#444">EMA (55, hlc3)</text>
<path d="M61.8 23.6h5l-2.5 2.6z" fill="#9a9a9a"/>
<rect x="74.6" y="19.6" width="9.8" height="9.8" fill="#d0d0d0"/><ellipse cx="79.5" cy="24.5" rx="2.9" ry="2.2" fill="none" stroke="#fff" stroke-width="1.15"/><circle cx="79.5" cy="24.5" r="1.1" fill="#fff"/>
<rect x="86.3" y="19.6" width="9.8" height="9.8" fill="#d0d0d0"/><circle cx="91.2" cy="24.5" r="2.95" fill="none" stroke="#fff" stroke-width="1.1" stroke-dasharray="1.2 1.117"/><circle cx="91.2" cy="24.5" r="2.05" fill="none" stroke="#fff" stroke-width="1.35"/>
<rect x="98.1" y="19.6" width="9.8" height="9.8" fill="#d0d0d0"/><path d="M100 21.5l6 6m0 -6l-6 6" stroke="#fff" stroke-width="1.2" fill="none"/>
<text x="113" y="27.8" font-size="8.7" fill="#ff1010" stroke="#ff1010" stroke-width="0.1">6.2088</text>
<text x="2.8" y="42.4" font-size="8.5" fill="#444">MA (200, close)</text>
<path d="M65 38.3h5l-2.5 2.6z" fill="#9a9a9a"/>
<rect x="78" y="34.3" width="9.8" height="9.8" fill="#d0d0d0"/><ellipse cx="82.9" cy="39.2" rx="2.9" ry="2.2" fill="none" stroke="#fff" stroke-width="1.15"/><circle cx="82.9" cy="39.2" r="1.1" fill="#fff"/>
<rect x="89.8" y="34.3" width="9.8" height="9.8" fill="#d0d0d0"/><circle cx="94.7" cy="39.2" r="2.95" fill="none" stroke="#fff" stroke-width="1.1" stroke-dasharray="1.2 1.117"/><circle cx="94.7" cy="39.2" r="2.05" fill="none" stroke="#fff" stroke-width="1.35"/>
<rect x="101.5" y="34.3" width="9.8" height="9.8" fill="#d0d0d0"/><path d="M103.4 36.2l6 6m0 -6l-6 6" stroke="#fff" stroke-width="1.2" fill="none"/>
<text x="116.8" y="42.5" font-size="8.7" fill="#808080" stroke="#808080" stroke-width="0.1">6.1994</text>
<text x="2.8" y="57" font-size="8.5" fill="#444">EMA (34, close)</text>
<path d="M65.7 52.9h5l-2.5 2.6z" fill="#9a9a9a"/>
<rect x="78.5" y="48.9" width="9.8" height="9.8" fill="#d0d0d0"/><ellipse cx="83.4" cy="53.8" rx="2.9" ry="2.2" fill="none" stroke="#fff" stroke-width="1.15"/><circle cx="83.4" cy="53.8" r="1.1" fill="#fff"/>
<rect x="90.2" y="48.9" width="9.8" height="9.8" fill="#d0d0d0"/><circle cx="95.2" cy="53.8" r="2.95" fill="none" stroke="#fff" stroke-width="1.1" stroke-dasharray="1.2 1.117"/><circle cx="95.2" cy="53.8" r="2.05" fill="none" stroke="#fff" stroke-width="1.35"/>
<rect x="102" y="48.9" width="9.8" height="9.8" fill="#d0d0d0"/><path d="M103.9 50.8l6 6m0 -6l-6 6" stroke="#fff" stroke-width="1.2" fill="none"/>
<text x="117.3" y="57.1" font-size="8.7" fill="#ff8c00" stroke="#ff8c00" stroke-width="0.1">6.2059</text>
<text x="2.8" y="71.5" font-size="8.5" fill="#444">MA (20, close)</text>
<path d="M60.3 67.4h5l-2.5 2.6z" fill="#9a9a9a"/>
<rect x="73" y="63.4" width="9.8" height="9.8" fill="#d0d0d0"/><ellipse cx="77.9" cy="68.3" rx="2.9" ry="2.2" fill="none" stroke="#fff" stroke-width="1.15"/><circle cx="77.9" cy="68.3" r="1.1" fill="#fff"/>
<rect x="84.8" y="63.4" width="9.8" height="9.8" fill="#d0d0d0"/><circle cx="89.7" cy="68.3" r="2.95" fill="none" stroke="#fff" stroke-width="1.1" stroke-dasharray="1.2 1.117"/><circle cx="89.7" cy="68.3" r="2.05" fill="none" stroke="#fff" stroke-width="1.35"/>
<rect x="96.5" y="63.4" width="9.8" height="9.8" fill="#d0d0d0"/><path d="M98.4 65.3l6 6m0 -6l-6 6" stroke="#fff" stroke-width="1.2" fill="none"/>
<text x="111.7" y="71.6" font-size="8.7" fill="#3c64b4" stroke="#3c64b4" stroke-width="0.1">6.2061</text>
<text x="2.8" y="86.2" font-size="8.5" fill="#444">Vol (20, false)</text>
<path d="M57.9 82.1h5l-2.5 2.6z" fill="#9a9a9a"/>
<rect x="70.6" y="78.1" width="9.8" height="9.8" fill="#d0d0d0"/><ellipse cx="75.5" cy="83" rx="2.9" ry="2.2" fill="none" stroke="#fff" stroke-width="1.15"/><circle cx="75.5" cy="83" r="1.1" fill="#fff"/>
<rect x="82.3" y="78.1" width="9.8" height="9.8" fill="#d0d0d0"/><circle cx="87.2" cy="83" r="2.95" fill="none" stroke="#fff" stroke-width="1.1" stroke-dasharray="1.2 1.117"/><circle cx="87.2" cy="83" r="2.05" fill="none" stroke="#fff" stroke-width="1.35"/>
<rect x="94.1" y="78.1" width="9.8" height="9.8" fill="#d0d0d0"/><path d="M96 80l6 6m0 -6l-6 6" stroke="#fff" stroke-width="1.2" fill="none"/>
<text x="110" y="86.3" font-size="8.7" fill="#8c1c1c" stroke="#8c1c1c" stroke-width="0.1">22.039K</text>
<text x="145.6" y="86.3" font-size="8.7" fill="#1448ff" stroke="#1448ff" stroke-width="0.1">27.714K</text>
<text x="2.8" y="101.2" font-size="8.5" fill="#b8b8b8">Ichimoku (9, 26, 52, 26)</text>
<path d="M94.8 97.1h5l-2.5 2.6z" fill="#b0b0b0"/>
<rect x="107.4" y="93.1" width="9.8" height="9.8" fill="#1e5fd2"/><ellipse cx="112.3" cy="98" rx="2.9" ry="2.2" fill="none" stroke="#fff" stroke-width="1.15"/><circle cx="112.3" cy="98" r="1.1" fill="#fff"/>
<rect x="119.2" y="93.1" width="9.8" height="9.8" fill="#d0d0d0"/><circle cx="124.1" cy="98" r="2.95" fill="none" stroke="#fff" stroke-width="1.1" stroke-dasharray="1.2 1.117"/><circle cx="124.1" cy="98" r="2.05" fill="none" stroke="#fff" stroke-width="1.35"/>
<rect x="130.9" y="93.1" width="9.8" height="9.8" fill="#d0d0d0"/><path d="M132.8 95l6 6m0 -6l-6 6" stroke="#fff" stroke-width="1.2" fill="none"/>
<text x="2.8" y="365.8" font-size="8.4" fill="#444">MACD (12, 26, close, 9, false, true)</text>
<path d="M137 361.9h5l-2.5 2.6z" fill="#9a9a9a"/>
<rect x="149.6" y="358" width="9.8" height="9.8" fill="#d0d0d0"/><ellipse cx="154.5" cy="362.9" rx="2.9" ry="2.2" fill="none" stroke="#fff" stroke-width="1.15"/><circle cx="154.5" cy="362.9" r="1.1" fill="#fff"/>
<rect x="161.3" y="358" width="9.8" height="9.8" fill="#d0d0d0"/><circle cx="166.2" cy="362.9" r="2.95" fill="none" stroke="#fff" stroke-width="1.1" stroke-dasharray="1.2 1.117"/><circle cx="166.2" cy="362.9" r="2.05" fill="none" stroke="#fff" stroke-width="1.35"/>
<rect x="173" y="358" width="9.8" height="9.8" fill="#d0d0d0"/><path d="M174.9 359.9l6 6m0 -6l-6 6" stroke="#fff" stroke-width="1.2" fill="none"/>
<text y="365.9" font-size="8.5"><tspan x="189" fill="#1010f0">0.0000</tspan><tspan x="218.6" fill="#1010f0">-0.0003</tspan><tspan x="251.8" fill="#f01010">-0.0003</tspan></text>
<circle cx="636.9" cy="9.6" r="2.8" fill="#146c2e"/>
<text x="642.4" y="12.4" font-size="8.2" fill="#146c2e" textLength="26.6" lengthAdjust="spacingAndGlyphs">realtime</text>
<rect x="647" y="15.6" width="9.6" height="9.6" fill="#d6d6d6"/><path d="M651.8 17.6v5.4m-1.7 -1.8l1.7 1.9l1.7 -1.9" stroke="#fff" stroke-width="1.1" fill="none"/>
<rect x="659" y="15.6" width="9.6" height="9.6" fill="#d6d6d6"/><path d="M663.8 17.7v5.4m-1.6 -3.8l1.6 -1.8l1.6 1.8m-3.2 2.2l1.6 1.8l1.6 -1.8" stroke="#fff" stroke-width="1" fill="none"/>
<rect x="647" y="358.4" width="9.6" height="9.6" fill="#d6d6d6"/><path d="M651.8 360.4m0 5.4v-5.4m-1.7 1.8l1.7 -1.9l1.7 1.9" stroke="#fff" stroke-width="1.1" fill="none"/>
<rect x="659" y="358.4" width="9.6" height="9.6" fill="#d6d6d6"/><path d="M663.8 360.5v5.4m-1.6 -3.8l1.6 -1.8l1.6 1.8m-3.2 2.2l1.6 1.8l1.6 -1.8" stroke="#fff" stroke-width="1" fill="none"/>
<circle cx="305.7" cy="478.5" r="8.8" fill="#c8c8c8" fill-opacity="0.38" stroke="#9a9a9a" stroke-opacity="0.55" stroke-width="0.8"/>
<path d="M306.9 475.5l-3 3l3 3" stroke="#a8a8a8" stroke-opacity="0.75" stroke-width="1.3" fill="none"/>
<circle cx="329.6" cy="478.5" r="8.8" fill="#c8c8c8" fill-opacity="0.38" stroke="#9a9a9a" stroke-opacity="0.55" stroke-width="0.8"/>
<path d="M326.4 478.5h6.4" stroke="#a8a8a8" stroke-opacity="0.75" stroke-width="1.3" fill="none"/>
<circle cx="353.4" cy="478.5" r="8.8" fill="#c8c8c8" fill-opacity="0.38" stroke="#9a9a9a" stroke-opacity="0.55" stroke-width="0.8"/>
<path d="M356.6 478.5a3.2 3.2 0 1 1 -1.2 -2.5" stroke="#a8a8a8" stroke-opacity="0.75" stroke-width="1.3" fill="none"/><path d="M355.8 474.1v2.6h-2.6" stroke="#a8a8a8" stroke-opacity="0.75" stroke-width="1.1" fill="none"/>
<circle cx="377.2" cy="478.5" r="8.8" fill="#c8c8c8" fill-opacity="0.38" stroke="#9a9a9a" stroke-opacity="0.55" stroke-width="0.8"/>
<path d="M374.1 478.5h6.4m-3.2 -3.2v6.4" stroke="#a8a8a8" stroke-opacity="0.75" stroke-width="1.3" fill="none"/>
<circle cx="401.1" cy="478.5" r="8.8" fill="#c8c8c8" fill-opacity="0.38" stroke="#9a9a9a" stroke-opacity="0.55" stroke-width="0.8"/>
<path d="M399.9 475.5l3 3l-3 3" stroke="#a8a8a8" stroke-opacity="0.75" stroke-width="1.3" fill="none"/>
</svg>
</body></html>
